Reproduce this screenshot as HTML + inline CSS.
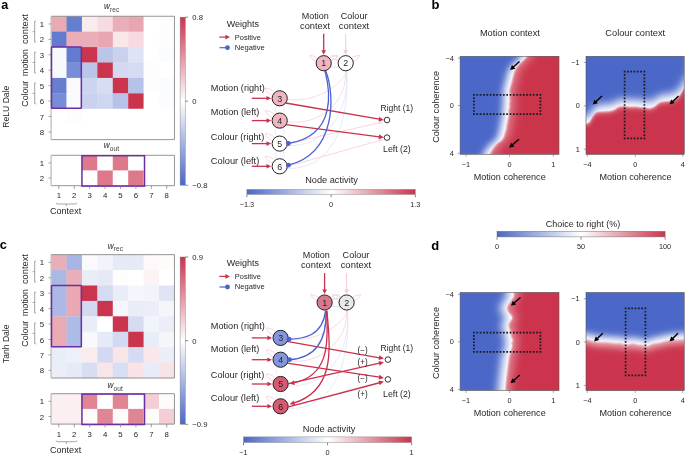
<!DOCTYPE html>
<html><head><meta charset="utf-8"><style>
html,body{margin:0;padding:0;background:#fff;}
body{width:685px;height:456px;overflow:hidden;}
svg{display:block;font-family:"Liberation Sans",sans-serif;will-change:transform;}
</style></head><body>
<svg width="685" height="456" viewBox="0 0 685 456" fill="#231f20">
<text x="1.30" y="8.90" font-size="12.6" fill="#000" font-weight="bold">a</text>
<text transform="translate(9.3,106.70) rotate(-90)" font-size="8.6" text-anchor="middle" fill="#231f20">ReLU Dale</text>
<text transform="translate(28.2,29.10) rotate(-90)" font-size="9.6" text-anchor="middle" fill="#231f20" textLength="30.0" lengthAdjust="spacingAndGlyphs">context</text>
<path d="M35.9,21.25 H34.7 V42.09 H35.9 M34.7,31.67 H32.6" stroke="#7d7d7d" stroke-width="0.7" fill="none"/>
<text transform="translate(28.2,62.70) rotate(-90)" font-size="9.6" text-anchor="middle" fill="#231f20" textLength="27.2" lengthAdjust="spacingAndGlyphs">motion</text>
<path d="M35.9,52.09 H34.7 V72.93 H35.9 M34.7,62.51 H32.6" stroke="#7d7d7d" stroke-width="0.7" fill="none"/>
<text transform="translate(28.2,93.80) rotate(-90)" font-size="9.6" text-anchor="middle" fill="#231f20" textLength="25.8" lengthAdjust="spacingAndGlyphs">Colour</text>
<path d="M35.9,82.93 H34.7 V103.77 H35.9 M34.7,93.35 H32.6" stroke="#7d7d7d" stroke-width="0.7" fill="none"/>
<rect x="51.10" y="16.25" width="15.72" height="15.72" fill="#e9aab4"/>
<rect x="66.52" y="16.25" width="15.72" height="15.72" fill="#667ed0"/>
<rect x="81.94" y="16.25" width="15.72" height="15.72" fill="#faebed"/>
<rect x="97.36" y="16.25" width="15.72" height="15.72" fill="#f6dce1"/>
<rect x="112.78" y="16.25" width="15.72" height="15.72" fill="#eaaeb8"/>
<rect x="128.20" y="16.25" width="15.72" height="15.72" fill="#e8a6b1"/>
<rect x="143.62" y="16.25" width="15.72" height="15.72" fill="#ffffff"/>
<rect x="159.04" y="16.25" width="15.72" height="15.72" fill="#fefdfd"/>
<rect x="51.10" y="31.67" width="15.72" height="15.72" fill="#627bcf"/>
<rect x="66.52" y="31.67" width="15.72" height="15.72" fill="#eaaeb8"/>
<rect x="81.94" y="31.67" width="15.72" height="15.72" fill="#eaaeb8"/>
<rect x="97.36" y="31.67" width="15.72" height="15.72" fill="#e8a6b1"/>
<rect x="112.78" y="31.67" width="15.72" height="15.72" fill="#f9e7ea"/>
<rect x="128.20" y="31.67" width="15.72" height="15.72" fill="#f6dadf"/>
<rect x="143.62" y="31.67" width="15.72" height="15.72" fill="#ffffff"/>
<rect x="159.04" y="31.67" width="15.72" height="15.72" fill="#fdfdfe"/>
<rect x="51.10" y="47.09" width="15.72" height="15.72" fill="#f8f9fd"/>
<rect x="66.52" y="47.09" width="15.72" height="15.72" fill="#627bcf"/>
<rect x="81.94" y="47.09" width="15.72" height="15.72" fill="#cb344d"/>
<rect x="97.36" y="47.09" width="15.72" height="15.72" fill="#bbc5ea"/>
<rect x="112.78" y="47.09" width="15.72" height="15.72" fill="#c9d1ee"/>
<rect x="128.20" y="47.09" width="15.72" height="15.72" fill="#dfe4f5"/>
<rect x="143.62" y="47.09" width="15.72" height="15.72" fill="#ffffff"/>
<rect x="159.04" y="47.09" width="15.72" height="15.72" fill="#fbfcfe"/>
<rect x="51.10" y="62.51" width="15.72" height="15.72" fill="#f8f9fd"/>
<rect x="66.52" y="62.51" width="15.72" height="15.72" fill="#788dd6"/>
<rect x="81.94" y="62.51" width="15.72" height="15.72" fill="#bbc5ea"/>
<rect x="97.36" y="62.51" width="15.72" height="15.72" fill="#cb344d"/>
<rect x="112.78" y="62.51" width="15.72" height="15.72" fill="#d2d9f1"/>
<rect x="128.20" y="62.51" width="15.72" height="15.72" fill="#d4dbf2"/>
<rect x="143.62" y="62.51" width="15.72" height="15.72" fill="#fefdfd"/>
<rect x="159.04" y="62.51" width="15.72" height="15.72" fill="#ffffff"/>
<rect x="51.10" y="77.93" width="15.72" height="15.72" fill="#687fd1"/>
<rect x="66.52" y="77.93" width="15.72" height="15.72" fill="#fafafd"/>
<rect x="81.94" y="77.93" width="15.72" height="15.72" fill="#cdd4f0"/>
<rect x="97.36" y="77.93" width="15.72" height="15.72" fill="#d7def3"/>
<rect x="112.78" y="77.93" width="15.72" height="15.72" fill="#cb344d"/>
<rect x="128.20" y="77.93" width="15.72" height="15.72" fill="#b7c2e9"/>
<rect x="143.62" y="77.93" width="15.72" height="15.72" fill="#fefdfd"/>
<rect x="159.04" y="77.93" width="15.72" height="15.72" fill="#fbfcfe"/>
<rect x="51.10" y="93.35" width="15.72" height="15.72" fill="#788dd6"/>
<rect x="66.52" y="93.35" width="15.72" height="15.72" fill="#fafafd"/>
<rect x="81.94" y="93.35" width="15.72" height="15.72" fill="#c9d1ee"/>
<rect x="97.36" y="93.35" width="15.72" height="15.72" fill="#ced6f0"/>
<rect x="112.78" y="93.35" width="15.72" height="15.72" fill="#b7c2e9"/>
<rect x="128.20" y="93.35" width="15.72" height="15.72" fill="#cb344d"/>
<rect x="143.62" y="93.35" width="15.72" height="15.72" fill="#ffffff"/>
<rect x="159.04" y="93.35" width="15.72" height="15.72" fill="#fbfcfe"/>
<rect x="51.10" y="108.77" width="15.72" height="15.72" fill="#ffffff"/>
<rect x="66.52" y="108.77" width="15.72" height="15.72" fill="#fdfdfe"/>
<rect x="81.94" y="108.77" width="15.72" height="15.72" fill="#ffffff"/>
<rect x="97.36" y="108.77" width="15.72" height="15.72" fill="#ffffff"/>
<rect x="112.78" y="108.77" width="15.72" height="15.72" fill="#ffffff"/>
<rect x="128.20" y="108.77" width="15.72" height="15.72" fill="#ffffff"/>
<rect x="143.62" y="108.77" width="15.72" height="15.72" fill="#ffffff"/>
<rect x="159.04" y="108.77" width="15.72" height="15.72" fill="#ffffff"/>
<rect x="51.10" y="124.19" width="15.72" height="15.72" fill="#ffffff"/>
<rect x="66.52" y="124.19" width="15.72" height="15.72" fill="#ffffff"/>
<rect x="81.94" y="124.19" width="15.72" height="15.72" fill="#ffffff"/>
<rect x="97.36" y="124.19" width="15.72" height="15.72" fill="#ffffff"/>
<rect x="112.78" y="124.19" width="15.72" height="15.72" fill="#ffffff"/>
<rect x="128.20" y="124.19" width="15.72" height="15.72" fill="#ffffff"/>
<rect x="143.62" y="124.19" width="15.72" height="15.72" fill="#ffffff"/>
<rect x="159.04" y="124.19" width="15.72" height="15.72" fill="#ffffff"/>
<path d="M51.10,16.25 H174.46 V139.61 H51.10" fill="none" stroke="#8a8a8a" stroke-width="0.9"/>
<path d="M51.10,16.25 V139.61" stroke="#c4c4c4" stroke-width="1.4"/>
<path d="M48.50,23.96 H51.10" stroke="#7d7d7d" stroke-width="0.7"/>
<text x="41.90" y="27.06" font-size="7.8" text-anchor="middle">1</text>
<path d="M48.50,39.38 H51.10" stroke="#7d7d7d" stroke-width="0.7"/>
<text x="41.90" y="42.48" font-size="7.8" text-anchor="middle">2</text>
<path d="M48.50,54.80 H51.10" stroke="#7d7d7d" stroke-width="0.7"/>
<text x="41.90" y="57.90" font-size="7.8" text-anchor="middle">3</text>
<path d="M48.50,70.22 H51.10" stroke="#7d7d7d" stroke-width="0.7"/>
<text x="41.90" y="73.32" font-size="7.8" text-anchor="middle">4</text>
<path d="M48.50,85.64 H51.10" stroke="#7d7d7d" stroke-width="0.7"/>
<text x="41.90" y="88.74" font-size="7.8" text-anchor="middle">5</text>
<path d="M48.50,101.06 H51.10" stroke="#7d7d7d" stroke-width="0.7"/>
<text x="41.90" y="104.16" font-size="7.8" text-anchor="middle">6</text>
<path d="M48.50,116.48 H51.10" stroke="#7d7d7d" stroke-width="0.7"/>
<text x="41.90" y="119.58" font-size="7.8" text-anchor="middle">7</text>
<path d="M48.50,131.90 H51.10" stroke="#7d7d7d" stroke-width="0.7"/>
<text x="41.90" y="135.00" font-size="7.8" text-anchor="middle">8</text>
<rect x="51.50" y="47.09" width="29.84" height="61.28" rx="0.6" fill="none" stroke="#6a2fa0" stroke-width="1.5"/>
<text x="104.0" y="8.90" font-size="8.6" fill="#231f20"><tspan font-style="italic" font-size="8.2">w</tspan><tspan font-size="6.6" dy="2.9" dx="0.1" fill="#444">rec</tspan></text>
<rect x="51.10" y="155.30" width="15.72" height="15.5" fill="#ffffff"/>
<rect x="66.52" y="155.30" width="15.72" height="15.5" fill="#ffffff"/>
<rect x="81.94" y="155.30" width="15.72" height="15.5" fill="#dd798a"/>
<rect x="97.36" y="155.30" width="15.72" height="15.5" fill="#ffffff"/>
<rect x="112.78" y="155.30" width="15.72" height="15.5" fill="#dd798a"/>
<rect x="128.20" y="155.30" width="15.72" height="15.5" fill="#ffffff"/>
<rect x="143.62" y="155.30" width="15.72" height="15.5" fill="#ffffff"/>
<rect x="159.04" y="155.30" width="15.72" height="15.5" fill="#ffffff"/>
<rect x="51.10" y="170.50" width="15.72" height="15.5" fill="#ffffff"/>
<rect x="66.52" y="170.50" width="15.72" height="15.5" fill="#ffffff"/>
<rect x="81.94" y="170.50" width="15.72" height="15.5" fill="#ffffff"/>
<rect x="97.36" y="170.50" width="15.72" height="15.5" fill="#dd798a"/>
<rect x="112.78" y="170.50" width="15.72" height="15.5" fill="#ffffff"/>
<rect x="128.20" y="170.50" width="15.72" height="15.5" fill="#dd798a"/>
<rect x="143.62" y="170.50" width="15.72" height="15.5" fill="#ffffff"/>
<rect x="159.04" y="170.50" width="15.72" height="15.5" fill="#ffffff"/>
<path d="M51.10,155.30 H174.46 V185.70 H51.10" fill="none" stroke="#8a8a8a" stroke-width="0.9"/>
<path d="M51.10,155.30 V185.70" stroke="#c4c4c4" stroke-width="1.4"/>
<path d="M48.50,162.90 H51.10" stroke="#7d7d7d" stroke-width="0.7"/>
<text x="41.90" y="166.00" font-size="7.8" text-anchor="middle">1</text>
<path d="M48.50,178.10 H51.10" stroke="#7d7d7d" stroke-width="0.7"/>
<text x="41.90" y="181.20" font-size="7.8" text-anchor="middle">2</text>
<rect x="81.94" y="155.70" width="62.58" height="30.4" fill="none" stroke="#6a2fa0" stroke-width="1.5"/>
<text x="103.8" y="148.40" font-size="8.6" fill="#231f20"><tspan font-style="italic" font-size="8.2">w</tspan><tspan font-size="6.6" dy="2.9" dx="0.1" fill="#444">out</tspan></text>
<path d="M58.81,185.70 V188.90" stroke="#7d7d7d" stroke-width="0.75"/>
<text x="58.81" y="198.30" font-size="7.8" text-anchor="middle">1</text>
<path d="M74.23,185.70 V188.90" stroke="#7d7d7d" stroke-width="0.75"/>
<text x="74.23" y="198.30" font-size="7.8" text-anchor="middle">2</text>
<path d="M89.65,185.70 V188.90" stroke="#7d7d7d" stroke-width="0.75"/>
<text x="89.65" y="198.30" font-size="7.8" text-anchor="middle">3</text>
<path d="M105.07,185.70 V188.90" stroke="#7d7d7d" stroke-width="0.75"/>
<text x="105.07" y="198.30" font-size="7.8" text-anchor="middle">4</text>
<path d="M120.49,185.70 V188.90" stroke="#7d7d7d" stroke-width="0.75"/>
<text x="120.49" y="198.30" font-size="7.8" text-anchor="middle">5</text>
<path d="M135.91,185.70 V188.90" stroke="#7d7d7d" stroke-width="0.75"/>
<text x="135.91" y="198.30" font-size="7.8" text-anchor="middle">6</text>
<path d="M151.33,185.70 V188.90" stroke="#7d7d7d" stroke-width="0.75"/>
<text x="151.33" y="198.30" font-size="7.8" text-anchor="middle">7</text>
<path d="M166.75,185.70 V188.90" stroke="#7d7d7d" stroke-width="0.75"/>
<text x="166.75" y="198.30" font-size="7.8" text-anchor="middle">8</text>
<path d="M56.2,202.80 Q56.2,204.00 57.2,204.00 H75.8 Q76.8,204.00 76.8,202.80 M66.3,204.00 V206.30" stroke="#8a8a8a" stroke-width="0.75" fill="none"/>
<text x="50.00" y="213.70" font-size="8.6" textLength="31.20" lengthAdjust="spacingAndGlyphs">Context</text>
<defs><linearGradient id="cbva" x1="0" y1="0" x2="0" y2="1"><stop offset="0" stop-color="#cb344d"/><stop offset="0.5" stop-color="#ffffff"/><stop offset="1" stop-color="#4b67c8"/></linearGradient></defs>
<rect x="180.1" y="17.20" width="5.2" height="168.00" fill="url(#cbva)" stroke="#777" stroke-width="0.4"/>
<path d="M185.30,17.20 H188.10" stroke="#555" stroke-width="0.7"/>
<text x="192.30" y="20.10" font-size="7.7">0.8</text>
<path d="M185.30,101.20 H188.10" stroke="#555" stroke-width="0.7"/>
<text x="192.30" y="104.10" font-size="7.7">0</text>
<path d="M185.30,185.20 H188.10" stroke="#555" stroke-width="0.7"/>
<text x="192.30" y="188.10" font-size="7.7">−0.8</text>
<text x="-0.30" y="249.20" font-size="12.8" fill="#000" font-weight="bold">c</text>
<text transform="translate(9.3,343.80) rotate(-90)" font-size="8.6" text-anchor="middle" fill="#231f20">Tanh Dale</text>
<text transform="translate(28.2,269.10) rotate(-90)" font-size="9.6" text-anchor="middle" fill="#231f20" textLength="30.0" lengthAdjust="spacingAndGlyphs">context</text>
<path d="M35.9,261.25 H34.7 V282.09 H35.9 M34.7,271.67 H32.6" stroke="#7d7d7d" stroke-width="0.7" fill="none"/>
<text transform="translate(28.2,302.70) rotate(-90)" font-size="9.6" text-anchor="middle" fill="#231f20" textLength="27.2" lengthAdjust="spacingAndGlyphs">motion</text>
<path d="M35.9,292.09 H34.7 V312.93 H35.9 M34.7,302.51 H32.6" stroke="#7d7d7d" stroke-width="0.7" fill="none"/>
<text transform="translate(28.2,333.80) rotate(-90)" font-size="9.6" text-anchor="middle" fill="#231f20" textLength="25.8" lengthAdjust="spacingAndGlyphs">Colour</text>
<path d="M35.9,322.93 H34.7 V343.77 H35.9 M34.7,333.35 H32.6" stroke="#7d7d7d" stroke-width="0.7" fill="none"/>
<rect x="51.10" y="254.65" width="15.72" height="15.72" fill="#eaaeb8"/>
<rect x="66.52" y="254.65" width="15.72" height="15.72" fill="#a9b6e5"/>
<rect x="81.94" y="254.65" width="15.72" height="15.72" fill="#fafafd"/>
<rect x="97.36" y="254.65" width="15.72" height="15.72" fill="#f2f4fb"/>
<rect x="112.78" y="254.65" width="15.72" height="15.72" fill="#e6eaf7"/>
<rect x="128.20" y="254.65" width="15.72" height="15.72" fill="#e6eaf7"/>
<rect x="143.62" y="254.65" width="15.72" height="15.72" fill="#fdf9fa"/>
<rect x="159.04" y="254.65" width="15.72" height="15.72" fill="#fefbfb"/>
<rect x="51.10" y="270.07" width="15.72" height="15.72" fill="#aab8e5"/>
<rect x="66.52" y="270.07" width="15.72" height="15.72" fill="#eaaeb8"/>
<rect x="81.94" y="270.07" width="15.72" height="15.72" fill="#e9edf8"/>
<rect x="97.36" y="270.07" width="15.72" height="15.72" fill="#e6eaf7"/>
<rect x="112.78" y="270.07" width="15.72" height="15.72" fill="#fefdfd"/>
<rect x="128.20" y="270.07" width="15.72" height="15.72" fill="#ffffff"/>
<rect x="143.62" y="270.07" width="15.72" height="15.72" fill="#fcf3f4"/>
<rect x="159.04" y="270.07" width="15.72" height="15.72" fill="#ffffff"/>
<rect x="51.10" y="285.49" width="15.72" height="15.72" fill="#acb9e6"/>
<rect x="66.52" y="285.49" width="15.72" height="15.72" fill="#e9a8b2"/>
<rect x="81.94" y="285.49" width="15.72" height="15.72" fill="#cb344d"/>
<rect x="97.36" y="285.49" width="15.72" height="15.72" fill="#d4dbf2"/>
<rect x="112.78" y="285.49" width="15.72" height="15.72" fill="#e9edf8"/>
<rect x="128.20" y="285.49" width="15.72" height="15.72" fill="#f4f6fc"/>
<rect x="143.62" y="285.49" width="15.72" height="15.72" fill="#f2f4fb"/>
<rect x="159.04" y="285.49" width="15.72" height="15.72" fill="#e0e5f6"/>
<rect x="51.10" y="300.91" width="15.72" height="15.72" fill="#acb9e6"/>
<rect x="66.52" y="300.91" width="15.72" height="15.72" fill="#e9a8b2"/>
<rect x="81.94" y="300.91" width="15.72" height="15.72" fill="#d2d9f1"/>
<rect x="97.36" y="300.91" width="15.72" height="15.72" fill="#cb344d"/>
<rect x="112.78" y="300.91" width="15.72" height="15.72" fill="#f6f7fc"/>
<rect x="128.20" y="300.91" width="15.72" height="15.72" fill="#e9edf8"/>
<rect x="143.62" y="300.91" width="15.72" height="15.72" fill="#ebeef9"/>
<rect x="159.04" y="300.91" width="15.72" height="15.72" fill="#f4f6fc"/>
<rect x="51.10" y="316.33" width="15.72" height="15.72" fill="#e9aab4"/>
<rect x="66.52" y="316.33" width="15.72" height="15.72" fill="#aebbe6"/>
<rect x="81.94" y="316.33" width="15.72" height="15.72" fill="#e9edf8"/>
<rect x="97.36" y="316.33" width="15.72" height="15.72" fill="#ffffff"/>
<rect x="112.78" y="316.33" width="15.72" height="15.72" fill="#cb344d"/>
<rect x="128.20" y="316.33" width="15.72" height="15.72" fill="#d4dbf2"/>
<rect x="143.62" y="316.33" width="15.72" height="15.72" fill="#f2f4fb"/>
<rect x="159.04" y="316.33" width="15.72" height="15.72" fill="#ebeef9"/>
<rect x="51.10" y="331.75" width="15.72" height="15.72" fill="#e9aab4"/>
<rect x="66.52" y="331.75" width="15.72" height="15.72" fill="#aebbe6"/>
<rect x="81.94" y="331.75" width="15.72" height="15.72" fill="#f8f9fd"/>
<rect x="97.36" y="331.75" width="15.72" height="15.72" fill="#e6eaf7"/>
<rect x="112.78" y="331.75" width="15.72" height="15.72" fill="#d2d9f1"/>
<rect x="128.20" y="331.75" width="15.72" height="15.72" fill="#cb344d"/>
<rect x="143.62" y="331.75" width="15.72" height="15.72" fill="#e9edf8"/>
<rect x="159.04" y="331.75" width="15.72" height="15.72" fill="#f4f6fc"/>
<rect x="51.10" y="347.17" width="15.72" height="15.72" fill="#e9edf8"/>
<rect x="66.52" y="347.17" width="15.72" height="15.72" fill="#edf0fa"/>
<rect x="81.94" y="347.17" width="15.72" height="15.72" fill="#faebed"/>
<rect x="97.36" y="347.17" width="15.72" height="15.72" fill="#d2d9f1"/>
<rect x="112.78" y="347.17" width="15.72" height="15.72" fill="#f8e5e8"/>
<rect x="128.20" y="347.17" width="15.72" height="15.72" fill="#d4dbf2"/>
<rect x="143.62" y="347.17" width="15.72" height="15.72" fill="#f9e7ea"/>
<rect x="159.04" y="347.17" width="15.72" height="15.72" fill="#ebeef9"/>
<rect x="51.10" y="362.59" width="15.72" height="15.72" fill="#ebeef9"/>
<rect x="66.52" y="362.59" width="15.72" height="15.72" fill="#e6eaf7"/>
<rect x="81.94" y="362.59" width="15.72" height="15.72" fill="#d7def3"/>
<rect x="97.36" y="362.59" width="15.72" height="15.72" fill="#f8e5e8"/>
<rect x="112.78" y="362.59" width="15.72" height="15.72" fill="#d9dff3"/>
<rect x="128.20" y="362.59" width="15.72" height="15.72" fill="#f8e3e6"/>
<rect x="143.62" y="362.59" width="15.72" height="15.72" fill="#e8ebf8"/>
<rect x="159.04" y="362.59" width="15.72" height="15.72" fill="#f8e3e6"/>
<path d="M51.10,254.65 H174.46 V378.01 H51.10" fill="none" stroke="#8a8a8a" stroke-width="0.9"/>
<path d="M51.10,254.65 V378.01" stroke="#c4c4c4" stroke-width="1.4"/>
<path d="M48.50,262.36 H51.10" stroke="#7d7d7d" stroke-width="0.7"/>
<text x="41.90" y="265.46" font-size="7.8" text-anchor="middle">1</text>
<path d="M48.50,277.78 H51.10" stroke="#7d7d7d" stroke-width="0.7"/>
<text x="41.90" y="280.88" font-size="7.8" text-anchor="middle">2</text>
<path d="M48.50,293.20 H51.10" stroke="#7d7d7d" stroke-width="0.7"/>
<text x="41.90" y="296.30" font-size="7.8" text-anchor="middle">3</text>
<path d="M48.50,308.62 H51.10" stroke="#7d7d7d" stroke-width="0.7"/>
<text x="41.90" y="311.72" font-size="7.8" text-anchor="middle">4</text>
<path d="M48.50,324.04 H51.10" stroke="#7d7d7d" stroke-width="0.7"/>
<text x="41.90" y="327.14" font-size="7.8" text-anchor="middle">5</text>
<path d="M48.50,339.46 H51.10" stroke="#7d7d7d" stroke-width="0.7"/>
<text x="41.90" y="342.56" font-size="7.8" text-anchor="middle">6</text>
<path d="M48.50,354.88 H51.10" stroke="#7d7d7d" stroke-width="0.7"/>
<text x="41.90" y="357.98" font-size="7.8" text-anchor="middle">7</text>
<path d="M48.50,370.30 H51.10" stroke="#7d7d7d" stroke-width="0.7"/>
<text x="41.90" y="373.40" font-size="7.8" text-anchor="middle">8</text>
<rect x="51.50" y="285.49" width="29.84" height="61.28" rx="0.6" fill="none" stroke="#6a2fa0" stroke-width="1.5"/>
<text x="107.8" y="248.50" font-size="8.6" fill="#231f20"><tspan font-style="italic" font-size="8.2">w</tspan><tspan font-size="6.6" dy="2.9" dx="0.1" fill="#444">rec</tspan></text>
<rect x="51.10" y="393.70" width="15.72" height="15.5" fill="#fbeff1"/>
<rect x="66.52" y="393.70" width="15.72" height="15.5" fill="#fbeff1"/>
<rect x="81.94" y="393.70" width="15.72" height="15.5" fill="#e08594"/>
<rect x="97.36" y="393.70" width="15.72" height="15.5" fill="#ffffff"/>
<rect x="112.78" y="393.70" width="15.72" height="15.5" fill="#e08594"/>
<rect x="128.20" y="393.70" width="15.72" height="15.5" fill="#ffffff"/>
<rect x="143.62" y="393.70" width="15.72" height="15.5" fill="#f3ced4"/>
<rect x="159.04" y="393.70" width="15.72" height="15.5" fill="#fefbfb"/>
<rect x="51.10" y="408.90" width="15.72" height="15.5" fill="#fbeff1"/>
<rect x="66.52" y="408.90" width="15.72" height="15.5" fill="#fbeff1"/>
<rect x="81.94" y="408.90" width="15.72" height="15.5" fill="#fefbfb"/>
<rect x="97.36" y="408.90" width="15.72" height="15.5" fill="#e08594"/>
<rect x="112.78" y="408.90" width="15.72" height="15.5" fill="#fefbfb"/>
<rect x="128.20" y="408.90" width="15.72" height="15.5" fill="#e08594"/>
<rect x="143.62" y="408.90" width="15.72" height="15.5" fill="#fefbfb"/>
<rect x="159.04" y="408.90" width="15.72" height="15.5" fill="#f3ced4"/>
<path d="M51.10,393.70 H174.46 V424.10 H51.10" fill="none" stroke="#8a8a8a" stroke-width="0.9"/>
<path d="M51.10,393.70 V424.10" stroke="#c4c4c4" stroke-width="1.4"/>
<path d="M48.50,401.30 H51.10" stroke="#7d7d7d" stroke-width="0.7"/>
<text x="41.90" y="404.40" font-size="7.8" text-anchor="middle">1</text>
<path d="M48.50,416.50 H51.10" stroke="#7d7d7d" stroke-width="0.7"/>
<text x="41.90" y="419.60" font-size="7.8" text-anchor="middle">2</text>
<rect x="81.94" y="394.10" width="62.58" height="30.4" fill="none" stroke="#6a2fa0" stroke-width="1.5"/>
<text x="107.6" y="388.00" font-size="8.6" fill="#231f20"><tspan font-style="italic" font-size="8.2">w</tspan><tspan font-size="6.6" dy="2.9" dx="0.1" fill="#444">out</tspan></text>
<path d="M58.81,424.10 V427.30" stroke="#7d7d7d" stroke-width="0.75"/>
<text x="58.81" y="436.70" font-size="7.8" text-anchor="middle">1</text>
<path d="M74.23,424.10 V427.30" stroke="#7d7d7d" stroke-width="0.75"/>
<text x="74.23" y="436.70" font-size="7.8" text-anchor="middle">2</text>
<path d="M89.65,424.10 V427.30" stroke="#7d7d7d" stroke-width="0.75"/>
<text x="89.65" y="436.70" font-size="7.8" text-anchor="middle">3</text>
<path d="M105.07,424.10 V427.30" stroke="#7d7d7d" stroke-width="0.75"/>
<text x="105.07" y="436.70" font-size="7.8" text-anchor="middle">4</text>
<path d="M120.49,424.10 V427.30" stroke="#7d7d7d" stroke-width="0.75"/>
<text x="120.49" y="436.70" font-size="7.8" text-anchor="middle">5</text>
<path d="M135.91,424.10 V427.30" stroke="#7d7d7d" stroke-width="0.75"/>
<text x="135.91" y="436.70" font-size="7.8" text-anchor="middle">6</text>
<path d="M151.33,424.10 V427.30" stroke="#7d7d7d" stroke-width="0.75"/>
<text x="151.33" y="436.70" font-size="7.8" text-anchor="middle">7</text>
<path d="M166.75,424.10 V427.30" stroke="#7d7d7d" stroke-width="0.75"/>
<text x="166.75" y="436.70" font-size="7.8" text-anchor="middle">8</text>
<path d="M56.2,440.50 Q56.2,441.70 57.2,441.70 H75.8 Q76.8,441.70 76.8,440.50 M66.3,441.70 V444.00" stroke="#8a8a8a" stroke-width="0.75" fill="none"/>
<text x="50.00" y="453.20" font-size="8.6" textLength="31.20" lengthAdjust="spacingAndGlyphs">Context</text>
<defs><linearGradient id="cbvc" x1="0" y1="0" x2="0" y2="1"><stop offset="0" stop-color="#cb344d"/><stop offset="0.5" stop-color="#ffffff"/><stop offset="1" stop-color="#4b67c8"/></linearGradient></defs>
<rect x="180.1" y="257.00" width="5.2" height="167.30" fill="url(#cbvc)" stroke="#777" stroke-width="0.4"/>
<path d="M185.30,257.00 H188.10" stroke="#555" stroke-width="0.7"/>
<text x="192.30" y="259.90" font-size="7.7">0.9</text>
<path d="M185.30,340.65 H188.10" stroke="#555" stroke-width="0.7"/>
<text x="192.30" y="343.55" font-size="7.7">0</text>
<path d="M185.30,424.30 H188.10" stroke="#555" stroke-width="0.7"/>
<text x="192.30" y="427.20" font-size="7.7">−0.9</text>
<text x="226.70" y="27.10" font-size="8.3" textLength="32.30" lengthAdjust="spacingAndGlyphs">Weights</text>
<g><path d="M219.30,37.10 L225.90,37.10" stroke="#cc2f4c" stroke-width="1.2" fill="none"/><path d="M230.00,37.10 L225.40,39.40 L225.40,34.80 Z" fill="#cc2f4c"/></g>
<text x="234.80" y="39.70" font-size="7.6" textLength="26.00" lengthAdjust="spacingAndGlyphs">Positive</text>
<path d="M219.5,47.70 H227.5" stroke="#4a62cf" stroke-width="1.2"/><circle cx="227.5" cy="47.70" r="2.4" fill="#4a62cf"/>
<text x="234.80" y="49.60" font-size="7.6" textLength="30.00" lengthAdjust="spacingAndGlyphs">Negative</text>
<text x="315.25" y="19.20" font-size="8.5" text-anchor="middle" textLength="27.00" lengthAdjust="spacingAndGlyphs">Motion</text>
<text x="315.00" y="29.00" font-size="8.5" text-anchor="middle" textLength="30.00" lengthAdjust="spacingAndGlyphs">context</text>
<text x="354.10" y="19.20" font-size="8.5" text-anchor="middle" textLength="26.80" lengthAdjust="spacingAndGlyphs">Colour</text>
<text x="354.00" y="29.00" font-size="8.5" text-anchor="middle" textLength="30.50" lengthAdjust="spacingAndGlyphs">context</text>
<path d="M317.70,57.70 C314.70,56.20 311.70,55.70 309.70,55.20 C310.70,58.20 312.70,60.20 316.20,61.20" stroke="#f7d3da" stroke-width="0.9" fill="none"/>
<path d="M329.70,57.70 C332.70,56.20 335.70,55.70 337.70,55.20 C336.70,58.20 334.70,60.20 331.20,61.20" stroke="#f7d3da" stroke-width="0.9" fill="none"/>
<path d="M339.70,57.70 C336.70,56.20 333.70,55.70 331.70,55.20 C332.70,58.20 334.70,60.20 338.20,61.20" stroke="#f7d3da" stroke-width="0.9" fill="none"/>
<path d="M351.70,57.70 C354.70,56.20 357.70,55.70 359.70,55.20 C358.70,58.20 356.70,60.20 353.20,61.20" stroke="#f7d3da" stroke-width="0.9" fill="none"/>
<path d="M329.70,59.20 H339.70 M329.70,67.20 H339.70" stroke="#dfe4f7" stroke-width="0.9" fill="none"/>
<path d="M274.70,92.30 C271.70,89.30 267.70,88.30 265.20,88.30 C266.70,92.30 269.70,94.30 272.20,95.30" stroke="#f7d3da" stroke-width="0.9" fill="none"/>
<path d="M276.70,105.30 C274.70,109.30 274.70,109.60 276.70,113.60 M282.70,105.30 C284.70,109.30 284.70,109.60 282.70,113.60" stroke="#dfe4f7" stroke-width="0.8" fill="none" opacity="0.9"/>
<path d="M274.70,114.60 C271.70,111.60 267.70,110.60 265.20,110.60 C266.70,114.60 269.70,116.60 272.20,117.60" stroke="#f7d3da" stroke-width="0.9" fill="none"/>
<path d="M276.70,127.60 C274.70,131.60 274.70,132.60 276.70,136.60 M282.70,127.60 C284.70,131.60 284.70,132.60 282.70,136.60" stroke="#dfe4f7" stroke-width="0.8" fill="none" opacity="0.9"/>
<path d="M274.70,137.60 C271.70,134.60 267.70,133.60 265.20,133.60 C266.70,137.60 269.70,139.60 272.20,140.60" stroke="#f7d3da" stroke-width="0.9" fill="none"/>
<path d="M276.70,150.60 C274.70,154.60 274.70,155.30 276.70,159.30 M282.70,150.60 C284.70,154.60 284.70,155.30 282.70,159.30" stroke="#dfe4f7" stroke-width="0.8" fill="none" opacity="0.9"/>
<path d="M274.70,160.30 C271.70,157.30 267.70,156.30 265.20,156.30 C266.70,160.30 269.70,162.30 272.20,163.30" stroke="#f7d3da" stroke-width="0.9" fill="none"/>
<path d="M286.70,99.30 C319.70,104.30 347.70,78.30 345.70,71.20" stroke="#f7d3da" stroke-width="0.8" fill="none"/>
<path d="M286.70,121.60 C319.70,126.60 347.70,100.60 345.70,71.20" stroke="#f7d3da" stroke-width="0.8" fill="none"/>
<path d="M286.70,145.60 C324.70,147.60 349.70,113.60 346.70,71.20" stroke="#dfe4f7" stroke-width="0.8" fill="none"/>
<path d="M286.70,168.30 C324.70,170.30 349.70,136.30 346.70,71.20" stroke="#dfe4f7" stroke-width="0.8" fill="none"/>
<text x="210.80" y="90.50" font-size="9.0" textLength="54.00" lengthAdjust="spacingAndGlyphs">Motion (right)</text>
<g><path d="M251.80,98.30 L267.00,98.30" stroke="#cc2f4c" stroke-width="1.3" fill="none"/><path d="M271.10,98.30 L266.50,100.60 L266.50,96.00 Z" fill="#cc2f4c"/></g>
<text x="210.80" y="114.50" font-size="9.0" textLength="48.50" lengthAdjust="spacingAndGlyphs">Motion (left)</text>
<g><path d="M251.80,120.60 L267.00,120.60" stroke="#cc2f4c" stroke-width="1.3" fill="none"/><path d="M271.10,120.60 L266.50,122.90 L266.50,118.30 Z" fill="#cc2f4c"/></g>
<text x="210.80" y="140.00" font-size="9.0" textLength="53.40" lengthAdjust="spacingAndGlyphs">Colour (right)</text>
<g><path d="M251.80,143.60 L267.00,143.60" stroke="#cc2f4c" stroke-width="1.3" fill="none"/><path d="M271.10,143.60 L266.50,145.90 L266.50,141.30 Z" fill="#cc2f4c"/></g>
<text x="210.80" y="163.80" font-size="9.0" textLength="48.50" lengthAdjust="spacingAndGlyphs">Colour (left)</text>
<g><path d="M251.80,166.30 L267.00,166.30" stroke="#cc2f4c" stroke-width="1.3" fill="none"/><path d="M271.10,166.30 L266.50,168.60 L266.50,164.00 Z" fill="#cc2f4c"/></g>
<g><path d="M323.70,33.80 L323.70,50.70" stroke="#cc2f4c" stroke-width="1.3" fill="none"/><path d="M323.70,54.80 L321.40,50.20 L326.00,50.20 Z" fill="#cc2f4c"/></g>
<g><path d="M345.70,33.80 L345.70,50.70" stroke="#f6c9d1" stroke-width="1.0" fill="none"/><path d="M345.70,54.80 L343.40,50.20 L348.00,50.20 Z" fill="#f6c9d1"/></g>
<g><path d="M287.70,143.60 L379.59,122.77" stroke="#f8d5dc" stroke-width="1.0" fill="none"/><path d="M383.00,122.00 L379.54,124.83 L378.66,120.93 Z" fill="#f8d5dc"/></g>
<g><path d="M287.70,166.30 L379.63,140.54" stroke="#f8d5dc" stroke-width="1.0" fill="none"/><path d="M383.00,139.60 L379.69,142.60 L378.61,138.75 Z" fill="#f8d5dc"/></g>
<g><path d="M285.60,103.00 L379.37,119.14" stroke="#cc2f4c" stroke-width="1.3" fill="none"/><path d="M383.80,119.90 L378.47,121.42 L379.28,116.69 Z" fill="#cc2f4c"/></g>
<g><path d="M285.80,124.60 L379.34,136.82" stroke="#cc2f4c" stroke-width="1.3" fill="none"/><path d="M383.80,137.40 L378.53,139.13 L379.15,134.37 Z" fill="#cc2f4c"/></g>
<path d="M324.9,70.6 C329.48,87.70 338.47,135.28 288.4,143.5" stroke="#4a62cf" stroke-width="1.3" fill="none"/>
<path d="M325.6,70.6 C335.29,95.07 336.52,153.45 288.4,165.2" stroke="#4a62cf" stroke-width="1.3" fill="none"/>
<circle cx="323.70" cy="63.20" r="7.6" fill="#efb6c1" stroke="#231f20" stroke-width="1"/>
<text x="323.70" y="66.40" font-size="8.9" text-anchor="middle">1</text>
<circle cx="345.70" cy="63.20" r="7.6" fill="#ffffff" stroke="#231f20" stroke-width="1"/>
<text x="345.70" y="66.40" font-size="8.9" text-anchor="middle">2</text>
<circle cx="279.70" cy="98.30" r="7.6" fill="#efb6c1" stroke="#231f20" stroke-width="1"/>
<text x="279.70" y="101.50" font-size="8.9" text-anchor="middle">3</text>
<circle cx="279.70" cy="120.60" r="7.6" fill="#efb6c1" stroke="#231f20" stroke-width="1"/>
<text x="279.70" y="123.80" font-size="8.9" text-anchor="middle">4</text>
<circle cx="279.70" cy="143.60" r="7.6" fill="#ffffff" stroke="#231f20" stroke-width="1"/>
<text x="279.70" y="146.80" font-size="8.9" text-anchor="middle">5</text>
<circle cx="279.70" cy="166.30" r="7.6" fill="#ffffff" stroke="#231f20" stroke-width="1"/>
<text x="279.70" y="169.50" font-size="8.9" text-anchor="middle">6</text>
<circle cx="288.40" cy="143.50" r="2.4" fill="#4a62cf"/>
<circle cx="288.40" cy="165.20" r="2.4" fill="#4a62cf"/>
<circle cx="387.00" cy="120.00" r="2.8" fill="#fff" stroke="#231f20" stroke-width="0.9"/>
<circle cx="387.00" cy="137.60" r="2.8" fill="#fff" stroke="#231f20" stroke-width="0.9"/>
<text x="380.60" y="110.80" font-size="8.3" textLength="32.60" lengthAdjust="spacingAndGlyphs">Right (1)</text>
<text x="383.00" y="152.30" font-size="8.3" textLength="27.80" lengthAdjust="spacingAndGlyphs">Left (2)</text>
<text x="331.50" y="183.00" font-size="8.3" text-anchor="middle" textLength="52.70" lengthAdjust="spacingAndGlyphs">Node activity</text>
<defs><linearGradient id="cbha" x1="0" y1="0" x2="1" y2="0"><stop offset="0" stop-color="#4b67c8"/><stop offset="0.5" stop-color="#ffffff"/><stop offset="1" stop-color="#cb344d"/></linearGradient></defs>
<rect x="246.9" y="189.40" width="168.40" height="5.00" fill="url(#cbha)" stroke="#777" stroke-width="0.4"/>
<path d="M246.90,194.40 V197.20" stroke="#555" stroke-width="0.7"/>
<text x="246.90" y="206.90" font-size="7.3" text-anchor="middle">−1.3</text>
<path d="M331.10,194.40 V197.20" stroke="#555" stroke-width="0.7"/>
<text x="331.10" y="206.90" font-size="7.3" text-anchor="middle">0</text>
<path d="M415.30,194.40 V197.20" stroke="#555" stroke-width="0.7"/>
<text x="415.30" y="206.90" font-size="7.3" text-anchor="middle">1.3</text>
<text x="226.70" y="266.40" font-size="8.3" textLength="32.30" lengthAdjust="spacingAndGlyphs">Weights</text>
<g><path d="M219.30,276.40 L225.90,276.40" stroke="#cc2f4c" stroke-width="1.2" fill="none"/><path d="M230.00,276.40 L225.40,278.70 L225.40,274.10 Z" fill="#cc2f4c"/></g>
<text x="234.80" y="279.00" font-size="7.6" textLength="26.00" lengthAdjust="spacingAndGlyphs">Positive</text>
<path d="M219.5,287.00 H227.5" stroke="#4a62cf" stroke-width="1.2"/><circle cx="227.5" cy="287.00" r="2.4" fill="#4a62cf"/>
<text x="234.80" y="288.90" font-size="7.6" textLength="30.00" lengthAdjust="spacingAndGlyphs">Negative</text>
<text x="316.15" y="257.60" font-size="8.5" text-anchor="middle" textLength="27.00" lengthAdjust="spacingAndGlyphs">Motion</text>
<text x="315.90" y="268.30" font-size="8.5" text-anchor="middle" textLength="30.00" lengthAdjust="spacingAndGlyphs">context</text>
<text x="356.00" y="257.60" font-size="8.5" text-anchor="middle" textLength="26.80" lengthAdjust="spacingAndGlyphs">Colour</text>
<text x="355.90" y="268.30" font-size="8.5" text-anchor="middle" textLength="30.50" lengthAdjust="spacingAndGlyphs">context</text>
<path d="M318.60,297.00 C315.60,295.50 312.60,295.00 310.60,294.50 C311.60,297.50 313.60,299.50 317.10,300.50" stroke="#f7d3da" stroke-width="0.9" fill="none"/>
<path d="M330.60,297.00 C333.60,295.50 336.60,295.00 338.60,294.50 C337.60,297.50 335.60,299.50 332.10,300.50" stroke="#f7d3da" stroke-width="0.9" fill="none"/>
<path d="M340.60,297.00 C337.60,295.50 334.60,295.00 332.60,294.50 C333.60,297.50 335.60,299.50 339.10,300.50" stroke="#f7d3da" stroke-width="0.9" fill="none"/>
<path d="M352.60,297.00 C355.60,295.50 358.60,295.00 360.60,294.50 C359.60,297.50 357.60,299.50 354.10,300.50" stroke="#f7d3da" stroke-width="0.9" fill="none"/>
<path d="M330.60,298.50 H340.60 M330.60,306.50 H340.60" stroke="#dfe4f7" stroke-width="0.9" fill="none"/>
<path d="M275.60,331.90 C272.60,328.90 268.60,327.90 266.10,327.90 C267.60,331.90 270.60,333.90 273.10,334.90" stroke="#f7d3da" stroke-width="0.9" fill="none"/>
<path d="M277.60,344.90 C275.60,348.90 275.60,348.70 277.60,352.70 M283.60,344.90 C285.60,348.90 285.60,348.70 283.60,352.70" stroke="#dfe4f7" stroke-width="0.8" fill="none" opacity="0.5"/>
<path d="M275.60,353.70 C272.60,350.70 268.60,349.70 266.10,349.70 C267.60,353.70 270.60,355.70 273.10,356.70" stroke="#f7d3da" stroke-width="0.9" fill="none"/>
<path d="M277.60,366.70 C275.60,370.70 275.60,373.00 277.60,377.00 M283.60,366.70 C285.60,370.70 285.60,373.00 283.60,377.00" stroke="#dfe4f7" stroke-width="0.8" fill="none" opacity="0.5"/>
<path d="M275.60,378.00 C272.60,375.00 268.60,374.00 266.10,374.00 C267.60,378.00 270.60,380.00 273.10,381.00" stroke="#f7d3da" stroke-width="0.9" fill="none"/>
<path d="M277.60,391.00 C275.60,395.00 275.60,395.30 277.60,399.30 M283.60,391.00 C285.60,395.00 285.60,395.30 283.60,399.30" stroke="#dfe4f7" stroke-width="0.8" fill="none" opacity="0.5"/>
<path d="M275.60,400.30 C272.60,397.30 268.60,396.30 266.10,396.30 C267.60,400.30 270.60,402.30 273.10,403.30" stroke="#f7d3da" stroke-width="0.9" fill="none"/>
<path d="M287.60,338.90 C320.60,343.90 348.60,317.90 346.60,310.50" stroke="#f7d3da" stroke-width="0.8" fill="none"/>
<path d="M287.60,360.70 C320.60,365.70 348.60,339.70 346.60,310.50" stroke="#f7d3da" stroke-width="0.8" fill="none"/>
<path d="M287.60,386.00 C325.60,388.00 350.60,354.00 347.60,310.50" stroke="#dfe4f7" stroke-width="0.8" fill="none"/>
<path d="M287.60,408.30 C325.60,410.30 350.60,376.30 347.60,310.50" stroke="#dfe4f7" stroke-width="0.8" fill="none"/>
<text x="210.80" y="328.70" font-size="9.0" textLength="54.00" lengthAdjust="spacingAndGlyphs">Motion (right)</text>
<g><path d="M251.80,337.90 L267.90,337.90" stroke="#cc2f4c" stroke-width="1.3" fill="none"/><path d="M272.00,337.90 L267.40,340.20 L267.40,335.60 Z" fill="#cc2f4c"/></g>
<text x="210.80" y="352.40" font-size="9.0" textLength="48.50" lengthAdjust="spacingAndGlyphs">Motion (left)</text>
<g><path d="M251.80,359.70 L267.90,359.70" stroke="#cc2f4c" stroke-width="1.3" fill="none"/><path d="M272.00,359.70 L267.40,362.00 L267.40,357.40 Z" fill="#cc2f4c"/></g>
<text x="210.80" y="378.10" font-size="9.0" textLength="53.40" lengthAdjust="spacingAndGlyphs">Colour (right)</text>
<g><path d="M251.80,384.00 L267.90,384.00" stroke="#cc2f4c" stroke-width="1.3" fill="none"/><path d="M272.00,384.00 L267.40,386.30 L267.40,381.70 Z" fill="#cc2f4c"/></g>
<text x="210.80" y="401.40" font-size="9.0" textLength="48.50" lengthAdjust="spacingAndGlyphs">Colour (left)</text>
<g><path d="M251.80,406.30 L267.90,406.30" stroke="#cc2f4c" stroke-width="1.3" fill="none"/><path d="M272.00,406.30 L267.40,408.60 L267.40,404.00 Z" fill="#cc2f4c"/></g>
<g><path d="M324.60,273.10 L324.60,290.00" stroke="#cc2f4c" stroke-width="1.3" fill="none"/><path d="M324.60,294.10 L322.30,289.50 L326.90,289.50 Z" fill="#cc2f4c"/></g>
<g><path d="M346.60,273.10 L346.60,290.00" stroke="#f6c9d1" stroke-width="1.0" fill="none"/><path d="M346.60,294.10 L344.30,289.50 L348.90,289.50 Z" fill="#f6c9d1"/></g>
<g><path d="M285.50,341.10 L379.47,357.81" stroke="#cc2f4c" stroke-width="1.3" fill="none"/><path d="M383.90,358.60 L378.56,360.09 L379.40,355.36 Z" fill="#cc2f4c"/></g>
<g><path d="M285.50,362.90 L379.45,377.22" stroke="#cc2f4c" stroke-width="1.3" fill="none"/><path d="M383.90,377.90 L378.60,379.52 L379.32,374.77 Z" fill="#cc2f4c"/></g>
<g><path d="M288.60,383.60 L379.51,363.19" stroke="#cc2f4c" stroke-width="1.3" fill="none"/><path d="M383.90,362.20 L379.55,365.64 L378.50,360.95 Z" fill="#cc2f4c"/></g>
<g><path d="M288.60,406.80 L379.55,382.75" stroke="#cc2f4c" stroke-width="1.3" fill="none"/><path d="M383.90,381.60 L379.68,385.20 L378.45,380.56 Z" fill="#cc2f4c"/></g>
<path d="M325.6,310.7 C322.56,336.60 303.00,338.76 289.1,339.2" stroke="#4a62cf" stroke-width="1.3" fill="none"/>
<path d="M326,310.7 C326.81,335.89 319.33,357.52 289.6,359.7" stroke="#4a62cf" stroke-width="1.3" fill="none"/>
<path d="M326.5,310.7 C328.89,346.31 327.42,376.18 293.5,382.9" stroke="#cc2f4c" stroke-width="1.3" fill="none"/><path d="M289.60,383.70 L294.04,380.37 L294.97,385.08 Z" fill="#cc2f4c"/>
<path d="M327,310.7 C329.46,344.69 337.23,389.48 293.5,403.2" stroke="#cc2f4c" stroke-width="1.3" fill="none"/><path d="M289.60,404.20 L293.67,400.43 L295.09,405.02 Z" fill="#cc2f4c"/>
<text x="362.60" y="352.70" font-size="8.2" text-anchor="middle">(−)</text>
<text x="362.60" y="365.30" font-size="8.2" text-anchor="middle">(+)</text>
<text x="362.60" y="381.40" font-size="8.2" text-anchor="middle">(−)</text>
<text x="362.60" y="396.70" font-size="8.2" text-anchor="middle">(+)</text>
<circle cx="324.60" cy="302.50" r="7.6" fill="#d9788a" stroke="#231f20" stroke-width="1"/>
<text x="324.60" y="305.70" font-size="8.9" text-anchor="middle">1</text>
<circle cx="346.60" cy="302.50" r="7.6" fill="#e9e9e9" stroke="#231f20" stroke-width="1"/>
<text x="346.60" y="305.70" font-size="8.9" text-anchor="middle">2</text>
<circle cx="280.60" cy="337.90" r="7.6" fill="#8495dc" stroke="#231f20" stroke-width="1"/>
<text x="280.60" y="341.10" font-size="8.9" text-anchor="middle">3</text>
<circle cx="280.60" cy="359.70" r="7.6" fill="#8495dc" stroke="#231f20" stroke-width="1"/>
<text x="280.60" y="362.90" font-size="8.9" text-anchor="middle">4</text>
<circle cx="280.60" cy="384.00" r="7.6" fill="#d75a71" stroke="#231f20" stroke-width="1"/>
<text x="280.60" y="387.20" font-size="8.9" text-anchor="middle">5</text>
<circle cx="280.60" cy="406.30" r="7.6" fill="#d75a71" stroke="#231f20" stroke-width="1"/>
<text x="280.60" y="409.50" font-size="8.9" text-anchor="middle">6</text>
<circle cx="289.10" cy="339.20" r="2.4" fill="#4a62cf"/>
<circle cx="289.60" cy="359.70" r="2.4" fill="#4a62cf"/>
<circle cx="387.90" cy="359.60" r="2.8" fill="#fff" stroke="#231f20" stroke-width="0.9"/>
<circle cx="387.90" cy="379.40" r="2.8" fill="#fff" stroke="#231f20" stroke-width="0.9"/>
<text x="380.60" y="350.80" font-size="8.3" textLength="32.60" lengthAdjust="spacingAndGlyphs">Right (1)</text>
<text x="383.00" y="396.50" font-size="8.3" textLength="27.80" lengthAdjust="spacingAndGlyphs">Left (2)</text>
<text x="329.00" y="431.60" font-size="8.3" text-anchor="middle" textLength="52.70" lengthAdjust="spacingAndGlyphs">Node activity</text>
<defs><linearGradient id="cbhc" x1="0" y1="0" x2="1" y2="0"><stop offset="0" stop-color="#4b67c8"/><stop offset="0.5" stop-color="#ffffff"/><stop offset="1" stop-color="#cb344d"/></linearGradient></defs>
<rect x="243.5" y="436.90" width="168.10" height="5.60" fill="url(#cbhc)" stroke="#777" stroke-width="0.4"/>
<path d="M243.50,442.50 V445.30" stroke="#555" stroke-width="0.7"/>
<text x="243.50" y="455.00" font-size="7.3" text-anchor="middle">−1</text>
<path d="M327.55,442.50 V445.30" stroke="#555" stroke-width="0.7"/>
<text x="327.55" y="455.00" font-size="7.3" text-anchor="middle">0</text>
<path d="M411.60,442.50 V445.30" stroke="#555" stroke-width="0.7"/>
<text x="411.60" y="455.00" font-size="7.3" text-anchor="middle">1</text>
<defs><filter id="bl6" x="-30%" y="-30%" width="160%" height="160%"><feGaussianBlur stdDeviation="0.6"/></filter><filter id="bl8" x="-30%" y="-30%" width="160%" height="160%"><feGaussianBlur stdDeviation="0.8"/></filter><filter id="bl10" x="-30%" y="-30%" width="160%" height="160%"><feGaussianBlur stdDeviation="1.0"/></filter><filter id="bl12" x="-30%" y="-30%" width="160%" height="160%"><feGaussianBlur stdDeviation="1.2"/></filter><filter id="bl15" x="-30%" y="-30%" width="160%" height="160%"><feGaussianBlur stdDeviation="1.5"/></filter><filter id="bl20" x="-30%" y="-30%" width="160%" height="160%"><feGaussianBlur stdDeviation="2.0"/></filter><filter id="bl25" x="-30%" y="-30%" width="160%" height="160%"><feGaussianBlur stdDeviation="2.5"/></filter><filter id="bl28" x="-30%" y="-30%" width="160%" height="160%"><feGaussianBlur stdDeviation="2.8"/></filter><filter id="bl30" x="-30%" y="-30%" width="160%" height="160%"><feGaussianBlur stdDeviation="3.0"/></filter><filter id="bl32" x="-30%" y="-30%" width="160%" height="160%"><feGaussianBlur stdDeviation="3.2"/></filter><filter id="bl35" x="-30%" y="-30%" width="160%" height="160%"><feGaussianBlur stdDeviation="3.5"/></filter><filter id="bl40" x="-30%" y="-30%" width="160%" height="160%"><feGaussianBlur stdDeviation="4.0"/></filter></defs>
<clipPath id="ch1b"><rect x="460.1" y="56.3" width="98.90" height="98.00"/></clipPath>
<clipPath id="cbh1b"><path d="M527.50,50.00 C527.33,51.00 526.98,54.58 526.50,56.00 C526.02,57.42 525.68,57.33 524.60,58.50 C523.52,59.67 521.48,61.52 520.00,63.00 C518.52,64.48 516.78,65.90 515.70,67.40 C514.62,68.90 514.07,70.50 513.50,72.00 C512.93,73.50 512.72,74.73 512.30,76.40 C511.88,78.07 511.48,80.13 511.00,82.00 C510.52,83.87 509.82,85.93 509.40,87.60 C508.98,89.27 508.48,90.77 508.50,92.00 C508.52,93.23 509.53,94.00 509.50,95.00 C509.47,96.00 508.33,97.00 508.30,98.00 C508.27,99.00 509.32,100.00 509.30,101.00 C509.28,102.00 508.25,103.00 508.20,104.00 C508.15,105.00 509.08,106.00 509.00,107.00 C508.92,108.00 507.87,108.67 507.70,110.00 C507.53,111.33 508.12,113.33 508.00,115.00 C507.88,116.67 507.33,118.33 507.00,120.00 C506.67,121.67 506.30,123.33 506.00,125.00 C505.70,126.67 505.47,128.78 505.20,130.00 C504.93,131.22 504.68,131.30 504.40,132.30 C504.12,133.30 503.98,134.72 503.50,136.00 C503.02,137.28 502.63,138.75 501.50,140.00 C500.37,141.25 498.03,142.33 496.70,143.50 C495.37,144.67 494.63,145.52 493.50,147.00 C492.37,148.48 490.82,150.90 489.90,152.40 C488.98,153.90 488.48,154.73 488.00,156.00 C487.52,157.27 487.17,159.33 487.00,160.00 L435.1,160 L435.1,50 Z"/></clipPath><clipPath id="crh1b"><path d="M527.50,50.00 C527.33,51.00 526.98,54.58 526.50,56.00 C526.02,57.42 525.68,57.33 524.60,58.50 C523.52,59.67 521.48,61.52 520.00,63.00 C518.52,64.48 516.78,65.90 515.70,67.40 C514.62,68.90 514.07,70.50 513.50,72.00 C512.93,73.50 512.72,74.73 512.30,76.40 C511.88,78.07 511.48,80.13 511.00,82.00 C510.52,83.87 509.82,85.93 509.40,87.60 C508.98,89.27 508.48,90.77 508.50,92.00 C508.52,93.23 509.53,94.00 509.50,95.00 C509.47,96.00 508.33,97.00 508.30,98.00 C508.27,99.00 509.32,100.00 509.30,101.00 C509.28,102.00 508.25,103.00 508.20,104.00 C508.15,105.00 509.08,106.00 509.00,107.00 C508.92,108.00 507.87,108.67 507.70,110.00 C507.53,111.33 508.12,113.33 508.00,115.00 C507.88,116.67 507.33,118.33 507.00,120.00 C506.67,121.67 506.30,123.33 506.00,125.00 C505.70,126.67 505.47,128.78 505.20,130.00 C504.93,131.22 504.68,131.30 504.40,132.30 C504.12,133.30 503.98,134.72 503.50,136.00 C503.02,137.28 502.63,138.75 501.50,140.00 C500.37,141.25 498.03,142.33 496.70,143.50 C495.37,144.67 494.63,145.52 493.50,147.00 C492.37,148.48 490.82,150.90 489.90,152.40 C488.98,153.90 488.48,154.73 488.00,156.00 C487.52,157.27 487.17,159.33 487.00,160.00 L584.0,160 L584.0,50 Z"/></clipPath>
<g clip-path="url(#ch1b)"><rect x="460.1" y="56.3" width="98.90" height="98.00" fill="#fff"/><g clip-path="url(#cbh1b)"><path d="M522.00,50.00 C521.83,51.00 521.48,54.58 521.00,56.00 C520.52,57.42 520.18,57.33 519.10,58.50 C518.02,59.67 515.98,61.52 514.50,63.00 C513.02,64.48 511.28,65.90 510.20,67.40 C509.12,68.90 508.57,70.50 508.00,72.00 C507.43,73.50 507.22,74.73 506.80,76.40 C506.38,78.07 505.98,80.13 505.50,82.00 C505.02,83.87 504.32,85.93 503.90,87.60 C503.48,89.27 502.98,90.77 503.00,92.00 C503.02,93.23 504.03,94.00 504.00,95.00 C503.97,96.00 502.83,97.00 502.80,98.00 C502.77,99.00 503.82,100.00 503.80,101.00 C503.78,102.00 502.75,103.00 502.70,104.00 C502.65,105.00 503.58,106.00 503.50,107.00 C503.42,108.00 502.37,108.67 502.20,110.00 C502.03,111.33 502.62,113.33 502.50,115.00 C502.38,116.67 501.83,118.33 501.50,120.00 C501.17,121.67 500.80,123.33 500.50,125.00 C500.20,126.67 499.97,128.78 499.70,130.00 C499.43,131.22 499.18,131.30 498.90,132.30 C498.62,133.30 498.48,134.72 498.00,136.00 C497.52,137.28 497.13,138.75 496.00,140.00 C494.87,141.25 492.53,142.33 491.20,143.50 C489.87,144.67 489.13,145.52 488.00,147.00 C486.87,148.48 485.32,150.90 484.40,152.40 C483.48,153.90 482.98,154.73 482.50,156.00 C482.02,157.27 481.67,159.33 481.50,160.00 L435.1,160 L435.1,50 Z" fill="#4b67c8" filter="url(#bf3_80)"/></g><g clip-path="url(#crh1b)"><path d="M533.50,50.00 C533.33,51.00 532.98,54.58 532.50,56.00 C532.02,57.42 531.68,57.33 530.60,58.50 C529.52,59.67 527.48,61.52 526.00,63.00 C524.52,64.48 522.78,65.90 521.70,67.40 C520.62,68.90 520.07,70.50 519.50,72.00 C518.93,73.50 518.72,74.73 518.30,76.40 C517.88,78.07 517.48,80.13 517.00,82.00 C516.52,83.87 515.82,85.93 515.40,87.60 C514.98,89.27 514.48,90.77 514.50,92.00 C514.52,93.23 515.53,94.00 515.50,95.00 C515.47,96.00 514.33,97.00 514.30,98.00 C514.27,99.00 515.32,100.00 515.30,101.00 C515.28,102.00 514.25,103.00 514.20,104.00 C514.15,105.00 515.08,106.00 515.00,107.00 C514.92,108.00 513.87,108.67 513.70,110.00 C513.53,111.33 514.12,113.33 514.00,115.00 C513.88,116.67 513.33,118.33 513.00,120.00 C512.67,121.67 512.30,123.33 512.00,125.00 C511.70,126.67 511.47,128.78 511.20,130.00 C510.93,131.22 510.68,131.30 510.40,132.30 C510.12,133.30 509.98,134.72 509.50,136.00 C509.02,137.28 508.63,138.75 507.50,140.00 C506.37,141.25 504.03,142.33 502.70,143.50 C501.37,144.67 500.63,145.52 499.50,147.00 C498.37,148.48 496.82,150.90 495.90,152.40 C494.98,153.90 494.48,154.73 494.00,156.00 C493.52,157.27 493.17,159.33 493.00,160.00 L584.0,160 L584.0,50 Z" fill="#cb344d" filter="url(#bf4_00)"/><path d="M528.70,50.00 C528.53,51.00 528.18,54.58 527.70,56.00 C527.22,57.42 526.88,57.33 525.80,58.50 C524.72,59.67 522.68,61.52 521.20,63.00 C519.72,64.48 517.98,65.90 516.90,67.40 C515.82,68.90 515.27,70.50 514.70,72.00 C514.13,73.50 513.92,74.73 513.50,76.40 C513.08,78.07 512.68,80.13 512.20,82.00 C511.72,83.87 511.02,85.93 510.60,87.60 C510.18,89.27 509.68,90.77 509.70,92.00 C509.72,93.23 510.73,94.00 510.70,95.00 C510.67,96.00 509.53,97.00 509.50,98.00 C509.47,99.00 510.52,100.00 510.50,101.00 C510.48,102.00 509.45,103.00 509.40,104.00 C509.35,105.00 510.28,106.00 510.20,107.00 C510.12,108.00 509.07,108.67 508.90,110.00 C508.73,111.33 509.32,113.33 509.20,115.00 C509.08,116.67 508.53,118.33 508.20,120.00 C507.87,121.67 507.50,123.33 507.20,125.00 C506.90,126.67 506.67,128.78 506.40,130.00 C506.13,131.22 505.88,131.30 505.60,132.30 C505.32,133.30 505.18,134.72 504.70,136.00 C504.22,137.28 503.83,138.75 502.70,140.00 C501.57,141.25 499.23,142.33 497.90,143.50 C496.57,144.67 495.83,145.52 494.70,147.00 C493.57,148.48 492.02,150.90 491.10,152.40 C490.18,153.90 489.68,154.73 489.20,156.00 C488.72,157.27 488.37,159.33 488.20,160.00 L584.0,160 L584.0,50 Z" fill="#cb344d" fill-opacity="0.65" filter="url(#bf1_00)"/></g></g>
<clipPath id="ch2b"><rect x="586.0" y="56.3" width="98.20" height="98.00"/></clipPath>
<clipPath id="cbh2b"><path d="M566.00,123.50 C569.50,123.33 583.00,123.00 587.00,122.50 C591.00,122.00 589.00,121.67 590.00,120.50 C591.00,119.33 592.00,116.98 593.00,115.50 C594.00,114.02 594.83,112.37 596.00,111.60 C597.17,110.83 598.50,111.08 600.00,110.90 C601.50,110.72 603.33,110.62 605.00,110.50 C606.67,110.38 608.33,110.50 610.00,110.20 C611.67,109.90 613.67,109.33 615.00,108.70 C616.33,108.07 617.00,106.92 618.00,106.40 C619.00,105.88 619.83,105.80 621.00,105.60 C622.17,105.40 623.50,105.13 625.00,105.20 C626.50,105.27 628.33,105.92 630.00,106.00 C631.67,106.08 633.33,105.62 635.00,105.70 C636.67,105.78 638.33,106.33 640.00,106.50 C641.67,106.67 643.33,106.52 645.00,106.70 C646.67,106.88 648.33,107.80 650.00,107.60 C651.67,107.40 653.50,106.43 655.00,105.50 C656.50,104.57 657.67,102.77 659.00,102.00 C660.33,101.23 661.50,101.17 663.00,100.90 C664.50,100.63 666.33,100.62 668.00,100.40 C669.67,100.18 671.50,100.10 673.00,99.60 C674.50,99.10 675.67,98.50 677.00,97.40 C678.33,96.30 679.83,94.65 681.00,93.00 C682.17,91.35 682.50,90.00 684.00,87.50 C685.50,85.00 689.00,79.58 690.00,78.00 L690,31.299999999999997 L566,31.299999999999997 Z"/></clipPath><clipPath id="crh2b"><path d="M566.00,123.50 C569.50,123.33 583.00,123.00 587.00,122.50 C591.00,122.00 589.00,121.67 590.00,120.50 C591.00,119.33 592.00,116.98 593.00,115.50 C594.00,114.02 594.83,112.37 596.00,111.60 C597.17,110.83 598.50,111.08 600.00,110.90 C601.50,110.72 603.33,110.62 605.00,110.50 C606.67,110.38 608.33,110.50 610.00,110.20 C611.67,109.90 613.67,109.33 615.00,108.70 C616.33,108.07 617.00,106.92 618.00,106.40 C619.00,105.88 619.83,105.80 621.00,105.60 C622.17,105.40 623.50,105.13 625.00,105.20 C626.50,105.27 628.33,105.92 630.00,106.00 C631.67,106.08 633.33,105.62 635.00,105.70 C636.67,105.78 638.33,106.33 640.00,106.50 C641.67,106.67 643.33,106.52 645.00,106.70 C646.67,106.88 648.33,107.80 650.00,107.60 C651.67,107.40 653.50,106.43 655.00,105.50 C656.50,104.57 657.67,102.77 659.00,102.00 C660.33,101.23 661.50,101.17 663.00,100.90 C664.50,100.63 666.33,100.62 668.00,100.40 C669.67,100.18 671.50,100.10 673.00,99.60 C674.50,99.10 675.67,98.50 677.00,97.40 C678.33,96.30 679.83,94.65 681.00,93.00 C682.17,91.35 682.50,90.00 684.00,87.50 C685.50,85.00 689.00,79.58 690.00,78.00 L690,179.3 L566,179.3 Z"/></clipPath>
<g clip-path="url(#ch2b)"><rect x="586.0" y="56.3" width="98.20" height="98.00" fill="#fff"/><g clip-path="url(#cbh2b)"><path d="M566.00,117.50 C569.50,117.33 583.00,117.00 587.00,116.50 C591.00,116.00 589.00,115.67 590.00,114.50 C591.00,113.33 592.00,110.98 593.00,109.50 C594.00,108.02 594.83,106.37 596.00,105.60 C597.17,104.83 598.50,105.08 600.00,104.90 C601.50,104.72 603.33,104.62 605.00,104.50 C606.67,104.38 608.33,104.50 610.00,104.20 C611.67,103.90 613.67,103.33 615.00,102.70 C616.33,102.07 617.00,100.92 618.00,100.40 C619.00,99.88 619.83,99.80 621.00,99.60 C622.17,99.40 623.50,99.13 625.00,99.20 C626.50,99.27 628.33,99.92 630.00,100.00 C631.67,100.08 633.33,99.62 635.00,99.70 C636.67,99.78 638.33,100.33 640.00,100.50 C641.67,100.67 643.33,100.52 645.00,100.70 C646.67,100.88 648.33,101.80 650.00,101.60 C651.67,101.40 653.50,100.43 655.00,99.50 C656.50,98.57 657.67,96.77 659.00,96.00 C660.33,95.23 661.50,95.17 663.00,94.90 C664.50,94.63 666.33,94.62 668.00,94.40 C669.67,94.18 671.50,94.10 673.00,93.60 C674.50,93.10 675.67,92.50 677.00,91.40 C678.33,90.30 679.83,88.65 681.00,87.00 C682.17,85.35 682.50,84.00 684.00,81.50 C685.50,79.00 689.00,73.58 690.00,72.00 L690,31.299999999999997 L566,31.299999999999997 Z" fill="#4b67c8" filter="url(#bf4_00)"/></g><g clip-path="url(#crh2b)"><path d="M566.00,127.00 C569.50,126.83 583.00,126.50 587.00,126.00 C591.00,125.50 589.00,125.17 590.00,124.00 C591.00,122.83 592.00,120.48 593.00,119.00 C594.00,117.52 594.83,115.87 596.00,115.10 C597.17,114.33 598.50,114.58 600.00,114.40 C601.50,114.22 603.33,114.12 605.00,114.00 C606.67,113.88 608.33,114.00 610.00,113.70 C611.67,113.40 613.67,112.83 615.00,112.20 C616.33,111.57 617.00,110.42 618.00,109.90 C619.00,109.38 619.83,109.30 621.00,109.10 C622.17,108.90 623.50,108.63 625.00,108.70 C626.50,108.77 628.33,109.42 630.00,109.50 C631.67,109.58 633.33,109.12 635.00,109.20 C636.67,109.28 638.33,109.83 640.00,110.00 C641.67,110.17 643.33,110.02 645.00,110.20 C646.67,110.38 648.33,111.30 650.00,111.10 C651.67,110.90 653.50,109.93 655.00,109.00 C656.50,108.07 657.67,106.27 659.00,105.50 C660.33,104.73 661.50,104.67 663.00,104.40 C664.50,104.13 666.33,104.12 668.00,103.90 C669.67,103.68 671.50,103.60 673.00,103.10 C674.50,102.60 675.67,102.00 677.00,100.90 C678.33,99.80 679.83,98.15 681.00,96.50 C682.17,94.85 682.50,93.50 684.00,91.00 C685.50,88.50 689.00,83.08 690.00,81.50 L690,179.3 L566,179.3 Z" fill="#cb344d" filter="url(#bf2_00)"/><path d="M566.00,124.70 C569.50,124.53 583.00,124.20 587.00,123.70 C591.00,123.20 589.00,122.87 590.00,121.70 C591.00,120.53 592.00,118.18 593.00,116.70 C594.00,115.22 594.83,113.57 596.00,112.80 C597.17,112.03 598.50,112.28 600.00,112.10 C601.50,111.92 603.33,111.82 605.00,111.70 C606.67,111.58 608.33,111.70 610.00,111.40 C611.67,111.10 613.67,110.53 615.00,109.90 C616.33,109.27 617.00,108.12 618.00,107.60 C619.00,107.08 619.83,107.00 621.00,106.80 C622.17,106.60 623.50,106.33 625.00,106.40 C626.50,106.47 628.33,107.12 630.00,107.20 C631.67,107.28 633.33,106.82 635.00,106.90 C636.67,106.98 638.33,107.53 640.00,107.70 C641.67,107.87 643.33,107.72 645.00,107.90 C646.67,108.08 648.33,109.00 650.00,108.80 C651.67,108.60 653.50,107.63 655.00,106.70 C656.50,105.77 657.67,103.97 659.00,103.20 C660.33,102.43 661.50,102.37 663.00,102.10 C664.50,101.83 666.33,101.82 668.00,101.60 C669.67,101.38 671.50,101.30 673.00,100.80 C674.50,100.30 675.67,99.70 677.00,98.60 C678.33,97.50 679.83,95.85 681.00,94.20 C682.17,92.55 682.50,91.20 684.00,88.70 C685.50,86.20 689.00,80.78 690.00,79.20 L690,179.3 L566,179.3 Z" fill="#cb344d" fill-opacity="0.7" filter="url(#bf1_00)"/></g></g>
<rect x="460.1" y="56.3" width="98.90" height="98.00" fill="none" stroke="#555555" stroke-width="0.6"/>
<path d="M457.90,58.20 H460.1" stroke="#7d7d7d" stroke-width="0.7"/>
<text x="453.80" y="60.80" font-size="7.3" text-anchor="end">−4</text>
<path d="M457.90,105.60 H460.1" stroke="#7d7d7d" stroke-width="0.7"/>
<text x="453.80" y="108.20" font-size="7.3" text-anchor="end">0</text>
<path d="M457.90,153.20 H460.1" stroke="#7d7d7d" stroke-width="0.7"/>
<text x="453.80" y="155.80" font-size="7.3" text-anchor="end">4</text>
<path d="M466.00,154.30 V156.70" stroke="#7d7d7d" stroke-width="0.7"/>
<text x="466.00" y="166.50" font-size="7.3" text-anchor="middle">−1</text>
<path d="M509.60,154.30 V156.70" stroke="#7d7d7d" stroke-width="0.7"/>
<text x="509.60" y="166.50" font-size="7.3" text-anchor="middle">0</text>
<path d="M553.30,154.30 V156.70" stroke="#7d7d7d" stroke-width="0.7"/>
<text x="553.30" y="166.50" font-size="7.3" text-anchor="middle">1</text>
<rect x="586.0" y="56.3" width="98.20" height="98.00" fill="none" stroke="#555555" stroke-width="0.6"/>
<path d="M583.80,62.50 H586.0" stroke="#7d7d7d" stroke-width="0.7"/>
<text x="579.70" y="65.10" font-size="7.3" text-anchor="end">−1</text>
<path d="M583.80,105.80 H586.0" stroke="#7d7d7d" stroke-width="0.7"/>
<text x="579.70" y="108.40" font-size="7.3" text-anchor="end">0</text>
<path d="M583.80,149.20 H586.0" stroke="#7d7d7d" stroke-width="0.7"/>
<text x="579.70" y="151.80" font-size="7.3" text-anchor="end">1</text>
<path d="M587.30,154.30 V156.70" stroke="#7d7d7d" stroke-width="0.7"/>
<text x="587.30" y="166.50" font-size="7.3" text-anchor="middle">−4</text>
<path d="M635.30,154.30 V156.70" stroke="#7d7d7d" stroke-width="0.7"/>
<text x="635.30" y="166.50" font-size="7.3" text-anchor="middle">0</text>
<path d="M682.80,154.30 V156.70" stroke="#7d7d7d" stroke-width="0.7"/>
<text x="682.80" y="166.50" font-size="7.3" text-anchor="middle">4</text>
<text x="509.70" y="179.90" font-size="9.2" text-anchor="middle" textLength="72.00" lengthAdjust="spacingAndGlyphs">Motion coherence</text>
<text x="635.50" y="179.90" font-size="9.2" text-anchor="middle" textLength="72.00" lengthAdjust="spacingAndGlyphs">Motion coherence</text>
<text transform="translate(439.0,106.80) rotate(-90)" font-size="8.8" text-anchor="middle" textLength="72" lengthAdjust="spacingAndGlyphs">Colour coherence</text>
<clipPath id="ch1d"><rect x="460.1" y="292.5" width="98.90" height="98.00"/></clipPath>
<clipPath id="cbh1d"><path d="M513.10,284.00 L513.10,293.30 L513.40,296.60 L510.40,301.00 L507.10,305.40 L506.00,308.60 L507.60,311.90 L511.40,316.30 L512.00,318.50 L509.30,321.80 L507.60,325.10 L508.70,328.40 L509.80,332.20 L510.70,337.20 L512.50,340.80 L510.70,343.20 L511.90,345.70 L510.70,349.30 L509.50,352.90 L508.30,357.70 L507.70,362.50 L507.10,367.40 L506.50,372.20 L505.90,377.00 L505.30,381.80 L504.90,386.70 L504.70,389.70 L504.50,398.00 L435.1,398 L435.1,284 Z"/></clipPath><clipPath id="crh1d"><path d="M513.10,284.00 L513.10,293.30 L513.40,296.60 L510.40,301.00 L507.10,305.40 L506.00,308.60 L507.60,311.90 L511.40,316.30 L512.00,318.50 L509.30,321.80 L507.60,325.10 L508.70,328.40 L509.80,332.20 L510.70,337.20 L512.50,340.80 L510.70,343.20 L511.90,345.70 L510.70,349.30 L509.50,352.90 L508.30,357.70 L507.70,362.50 L507.10,367.40 L506.50,372.20 L505.90,377.00 L505.30,381.80 L504.90,386.70 L504.70,389.70 L504.50,398.00 L584.0,398 L584.0,284 Z"/></clipPath>
<g clip-path="url(#ch1d)"><rect x="460.1" y="292.5" width="98.90" height="98.00" fill="#fff"/><g clip-path="url(#cbh1d)"><path d="M506.80,284.00 C506.80,285.55 506.75,291.20 506.80,293.30 C506.85,295.40 507.55,295.32 507.10,296.60 C506.65,297.88 505.15,299.53 504.10,301.00 C503.05,302.47 501.53,304.13 500.80,305.40 C500.07,306.67 499.62,307.52 499.70,308.60 C499.78,309.68 500.40,310.62 501.30,311.90 C502.20,313.18 504.37,315.20 505.10,316.30 C505.83,317.40 506.05,317.58 505.70,318.50 C505.35,319.42 503.73,320.70 503.00,321.80 C502.27,322.90 501.40,324.00 501.30,325.10 C501.20,326.20 502.03,327.22 502.40,328.40 C502.77,329.58 503.17,330.73 503.50,332.20 C503.83,333.67 503.95,335.77 504.40,337.20 C504.85,338.63 506.20,339.80 506.20,340.80 C506.20,341.80 504.50,342.38 504.40,343.20 C504.30,344.02 505.60,344.68 505.60,345.70 C505.60,346.72 504.80,348.10 504.40,349.30 C504.00,350.50 503.60,351.50 503.20,352.90 C502.80,354.30 502.30,356.10 502.00,357.70 C501.70,359.30 501.60,360.88 501.40,362.50 C501.20,364.12 501.00,365.78 500.80,367.40 C500.60,369.02 500.40,370.60 500.20,372.20 C500.00,373.80 499.80,375.40 499.60,377.00 C499.40,378.60 499.17,380.18 499.00,381.80 C498.83,383.42 498.70,385.38 498.60,386.70 C498.50,388.02 498.47,387.82 498.40,389.70 C498.33,391.58 498.23,396.62 498.20,398.00 L435.1,398 L435.1,284 Z" fill="#4b67c8" filter="url(#bf4_40)"/></g><g clip-path="url(#crh1d)"><path d="M519.10,284.00 C519.10,285.55 519.05,291.20 519.10,293.30 C519.15,295.40 519.85,295.32 519.40,296.60 C518.95,297.88 517.45,299.53 516.40,301.00 C515.35,302.47 513.83,304.13 513.10,305.40 C512.37,306.67 511.92,307.52 512.00,308.60 C512.08,309.68 512.70,310.62 513.60,311.90 C514.50,313.18 516.67,315.20 517.40,316.30 C518.13,317.40 518.35,317.58 518.00,318.50 C517.65,319.42 516.03,320.70 515.30,321.80 C514.57,322.90 513.70,324.00 513.60,325.10 C513.50,326.20 514.33,327.22 514.70,328.40 C515.07,329.58 515.47,330.73 515.80,332.20 C516.13,333.67 516.25,335.77 516.70,337.20 C517.15,338.63 518.50,339.80 518.50,340.80 C518.50,341.80 516.80,342.38 516.70,343.20 C516.60,344.02 517.90,344.68 517.90,345.70 C517.90,346.72 517.10,348.10 516.70,349.30 C516.30,350.50 515.90,351.50 515.50,352.90 C515.10,354.30 514.60,356.10 514.30,357.70 C514.00,359.30 513.90,360.88 513.70,362.50 C513.50,364.12 513.30,365.78 513.10,367.40 C512.90,369.02 512.70,370.60 512.50,372.20 C512.30,373.80 512.10,375.40 511.90,377.00 C511.70,378.60 511.47,380.18 511.30,381.80 C511.13,383.42 511.00,385.38 510.90,386.70 C510.80,388.02 510.77,387.82 510.70,389.70 C510.63,391.58 510.53,396.62 510.50,398.00 L584.0,398 L584.0,284 Z" fill="#cb344d" filter="url(#bf4_00)"/><path d="M514.10,284.00 L514.10,293.30 L514.40,296.60 L511.40,301.00 L508.10,305.40 L507.00,308.60 L508.60,311.90 L512.40,316.30 L513.00,318.50 L510.30,321.80 L508.60,325.10 L509.70,328.40 L510.80,332.20 L511.70,337.20 L513.50,340.80 L511.70,343.20 L512.90,345.70 L511.70,349.30 L510.50,352.90 L509.30,357.70 L508.70,362.50 L508.10,367.40 L507.50,372.20 L506.90,377.00 L506.30,381.80 L505.90,386.70 L505.70,389.70 L505.50,398.00 L584.0,398 L584.0,284 Z" fill="#cb344d" fill-opacity="0.6" filter="url(#bf1_00)"/></g></g>
<clipPath id="ch2d"><rect x="586.0" y="292.5" width="98.20" height="98.00"/></clipPath>
<clipPath id="cbh2d"><path d="M566.00,338.50 C569.50,338.53 582.67,338.42 587.00,338.70 C591.33,338.98 590.33,339.82 592.00,340.20 C593.67,340.58 595.33,340.80 597.00,341.00 C598.67,341.20 600.33,341.33 602.00,341.40 C603.67,341.47 605.33,341.30 607.00,341.40 C608.67,341.50 610.33,341.83 612.00,342.00 C613.67,342.17 615.67,342.40 617.00,342.40 C618.33,342.40 619.17,341.95 620.00,342.00 C620.83,342.05 621.17,342.42 622.00,342.70 C622.83,342.98 623.67,343.62 625.00,343.70 C626.33,343.78 628.67,343.42 630.00,343.20 C631.33,342.98 631.83,342.32 633.00,342.40 C634.17,342.48 635.67,343.43 637.00,343.70 C638.33,343.97 639.67,343.78 641.00,344.00 C642.33,344.22 643.83,344.77 645.00,345.00 C646.17,345.23 647.00,345.65 648.00,345.40 C649.00,345.15 649.83,344.00 651.00,343.50 C652.17,343.00 653.50,342.70 655.00,342.40 C656.50,342.10 658.33,342.07 660.00,341.70 C661.67,341.33 663.33,340.62 665.00,340.20 C666.67,339.78 668.33,339.40 670.00,339.20 C671.67,339.00 673.33,339.08 675.00,339.00 C676.67,338.92 678.50,338.82 680.00,338.70 C681.50,338.58 680.67,338.42 684.00,338.30 C687.33,338.18 697.33,338.05 700.00,338.00 L700,267.5 L566,267.5 Z"/></clipPath><clipPath id="crh2d"><path d="M566.00,338.50 C569.50,338.53 582.67,338.42 587.00,338.70 C591.33,338.98 590.33,339.82 592.00,340.20 C593.67,340.58 595.33,340.80 597.00,341.00 C598.67,341.20 600.33,341.33 602.00,341.40 C603.67,341.47 605.33,341.30 607.00,341.40 C608.67,341.50 610.33,341.83 612.00,342.00 C613.67,342.17 615.67,342.40 617.00,342.40 C618.33,342.40 619.17,341.95 620.00,342.00 C620.83,342.05 621.17,342.42 622.00,342.70 C622.83,342.98 623.67,343.62 625.00,343.70 C626.33,343.78 628.67,343.42 630.00,343.20 C631.33,342.98 631.83,342.32 633.00,342.40 C634.17,342.48 635.67,343.43 637.00,343.70 C638.33,343.97 639.67,343.78 641.00,344.00 C642.33,344.22 643.83,344.77 645.00,345.00 C646.17,345.23 647.00,345.65 648.00,345.40 C649.00,345.15 649.83,344.00 651.00,343.50 C652.17,343.00 653.50,342.70 655.00,342.40 C656.50,342.10 658.33,342.07 660.00,341.70 C661.67,341.33 663.33,340.62 665.00,340.20 C666.67,339.78 668.33,339.40 670.00,339.20 C671.67,339.00 673.33,339.08 675.00,339.00 C676.67,338.92 678.50,338.82 680.00,338.70 C681.50,338.58 680.67,338.42 684.00,338.30 C687.33,338.18 697.33,338.05 700.00,338.00 L700,415.5 L566,415.5 Z"/></clipPath>
<g clip-path="url(#ch2d)"><rect x="586.0" y="292.5" width="98.20" height="98.00" fill="#fff"/><g clip-path="url(#cbh2d)"><path d="M566.00,333.50 C569.50,333.53 582.67,333.42 587.00,333.70 C591.33,333.98 590.33,334.82 592.00,335.20 C593.67,335.58 595.33,335.80 597.00,336.00 C598.67,336.20 600.33,336.33 602.00,336.40 C603.67,336.47 605.33,336.30 607.00,336.40 C608.67,336.50 610.33,336.83 612.00,337.00 C613.67,337.17 615.67,337.40 617.00,337.40 C618.33,337.40 619.17,336.95 620.00,337.00 C620.83,337.05 621.17,337.42 622.00,337.70 C622.83,337.98 623.67,338.62 625.00,338.70 C626.33,338.78 628.67,338.42 630.00,338.20 C631.33,337.98 631.83,337.32 633.00,337.40 C634.17,337.48 635.67,338.43 637.00,338.70 C638.33,338.97 639.67,338.78 641.00,339.00 C642.33,339.22 643.83,339.77 645.00,340.00 C646.17,340.23 647.00,340.65 648.00,340.40 C649.00,340.15 649.83,339.00 651.00,338.50 C652.17,338.00 653.50,337.70 655.00,337.40 C656.50,337.10 658.33,337.07 660.00,336.70 C661.67,336.33 663.33,335.62 665.00,335.20 C666.67,334.78 668.33,334.40 670.00,334.20 C671.67,334.00 673.33,334.08 675.00,334.00 C676.67,333.92 678.50,333.82 680.00,333.70 C681.50,333.58 680.67,333.42 684.00,333.30 C687.33,333.18 697.33,333.05 700.00,333.00 L700,267.5 L566,267.5 Z" fill="#4b67c8" filter="url(#bf3_50)"/></g><g clip-path="url(#crh2d)"><path d="M566.00,343.50 C569.50,343.53 582.67,343.42 587.00,343.70 C591.33,343.98 590.33,344.82 592.00,345.20 C593.67,345.58 595.33,345.80 597.00,346.00 C598.67,346.20 600.33,346.33 602.00,346.40 C603.67,346.47 605.33,346.30 607.00,346.40 C608.67,346.50 610.33,346.83 612.00,347.00 C613.67,347.17 615.67,347.40 617.00,347.40 C618.33,347.40 619.17,346.95 620.00,347.00 C620.83,347.05 621.17,347.42 622.00,347.70 C622.83,347.98 623.67,348.62 625.00,348.70 C626.33,348.78 628.67,348.42 630.00,348.20 C631.33,347.98 631.83,347.32 633.00,347.40 C634.17,347.48 635.67,348.43 637.00,348.70 C638.33,348.97 639.67,348.78 641.00,349.00 C642.33,349.22 643.83,349.77 645.00,350.00 C646.17,350.23 647.00,350.65 648.00,350.40 C649.00,350.15 649.83,349.00 651.00,348.50 C652.17,348.00 653.50,347.70 655.00,347.40 C656.50,347.10 658.33,347.07 660.00,346.70 C661.67,346.33 663.33,345.62 665.00,345.20 C666.67,344.78 668.33,344.40 670.00,344.20 C671.67,344.00 673.33,344.08 675.00,344.00 C676.67,343.92 678.50,343.82 680.00,343.70 C681.50,343.58 680.67,343.42 684.00,343.30 C687.33,343.18 697.33,343.05 700.00,343.00 L700,415.5 L566,415.5 Z" fill="#cb344d" filter="url(#bf3_50)"/><path d="M566.00,339.70 C569.50,339.73 582.67,339.62 587.00,339.90 C591.33,340.18 590.33,341.02 592.00,341.40 C593.67,341.78 595.33,342.00 597.00,342.20 C598.67,342.40 600.33,342.53 602.00,342.60 C603.67,342.67 605.33,342.50 607.00,342.60 C608.67,342.70 610.33,343.03 612.00,343.20 C613.67,343.37 615.67,343.60 617.00,343.60 C618.33,343.60 619.17,343.15 620.00,343.20 C620.83,343.25 621.17,343.62 622.00,343.90 C622.83,344.18 623.67,344.82 625.00,344.90 C626.33,344.98 628.67,344.62 630.00,344.40 C631.33,344.18 631.83,343.52 633.00,343.60 C634.17,343.68 635.67,344.63 637.00,344.90 C638.33,345.17 639.67,344.98 641.00,345.20 C642.33,345.42 643.83,345.97 645.00,346.20 C646.17,346.43 647.00,346.85 648.00,346.60 C649.00,346.35 649.83,345.20 651.00,344.70 C652.17,344.20 653.50,343.90 655.00,343.60 C656.50,343.30 658.33,343.27 660.00,342.90 C661.67,342.53 663.33,341.82 665.00,341.40 C666.67,340.98 668.33,340.60 670.00,340.40 C671.67,340.20 673.33,340.28 675.00,340.20 C676.67,340.12 678.50,340.02 680.00,339.90 C681.50,339.78 680.67,339.62 684.00,339.50 C687.33,339.38 697.33,339.25 700.00,339.20 L700,415.5 L566,415.5 Z" fill="#cb344d" fill-opacity="0.4" filter="url(#bf1_00)"/></g></g>
<rect x="460.1" y="292.5" width="98.90" height="98.00" fill="none" stroke="#555555" stroke-width="0.6"/>
<path d="M457.90,294.40 H460.1" stroke="#7d7d7d" stroke-width="0.7"/>
<text x="453.80" y="297.00" font-size="7.3" text-anchor="end">−4</text>
<path d="M457.90,341.80 H460.1" stroke="#7d7d7d" stroke-width="0.7"/>
<text x="453.80" y="344.40" font-size="7.3" text-anchor="end">0</text>
<path d="M457.90,389.40 H460.1" stroke="#7d7d7d" stroke-width="0.7"/>
<text x="453.80" y="392.00" font-size="7.3" text-anchor="end">4</text>
<path d="M466.00,390.50 V392.90" stroke="#7d7d7d" stroke-width="0.7"/>
<text x="466.00" y="402.70" font-size="7.3" text-anchor="middle">−1</text>
<path d="M509.60,390.50 V392.90" stroke="#7d7d7d" stroke-width="0.7"/>
<text x="509.60" y="402.70" font-size="7.3" text-anchor="middle">0</text>
<path d="M553.30,390.50 V392.90" stroke="#7d7d7d" stroke-width="0.7"/>
<text x="553.30" y="402.70" font-size="7.3" text-anchor="middle">1</text>
<rect x="586.0" y="292.5" width="98.20" height="98.00" fill="none" stroke="#555555" stroke-width="0.6"/>
<path d="M583.80,298.70 H586.0" stroke="#7d7d7d" stroke-width="0.7"/>
<text x="579.70" y="301.30" font-size="7.3" text-anchor="end">−1</text>
<path d="M583.80,342.00 H586.0" stroke="#7d7d7d" stroke-width="0.7"/>
<text x="579.70" y="344.60" font-size="7.3" text-anchor="end">0</text>
<path d="M583.80,385.40 H586.0" stroke="#7d7d7d" stroke-width="0.7"/>
<text x="579.70" y="388.00" font-size="7.3" text-anchor="end">1</text>
<path d="M587.30,390.50 V392.90" stroke="#7d7d7d" stroke-width="0.7"/>
<text x="587.30" y="402.70" font-size="7.3" text-anchor="middle">−4</text>
<path d="M635.30,390.50 V392.90" stroke="#7d7d7d" stroke-width="0.7"/>
<text x="635.30" y="402.70" font-size="7.3" text-anchor="middle">0</text>
<path d="M682.80,390.50 V392.90" stroke="#7d7d7d" stroke-width="0.7"/>
<text x="682.80" y="402.70" font-size="7.3" text-anchor="middle">4</text>
<text x="509.70" y="416.10" font-size="9.2" text-anchor="middle" textLength="72.00" lengthAdjust="spacingAndGlyphs">Motion coherence</text>
<text x="635.50" y="416.10" font-size="9.2" text-anchor="middle" textLength="72.00" lengthAdjust="spacingAndGlyphs">Motion coherence</text>
<text transform="translate(439.0,343.00) rotate(-90)" font-size="8.8" text-anchor="middle" textLength="72" lengthAdjust="spacingAndGlyphs">Colour coherence</text>
<defs><filter id="bf3_80" x="-30%" y="-30%" width="160%" height="160%"><feGaussianBlur stdDeviation="3.8"/></filter><filter id="bf4_00" x="-30%" y="-30%" width="160%" height="160%"><feGaussianBlur stdDeviation="4.0"/></filter><filter id="bf1_00" x="-30%" y="-30%" width="160%" height="160%"><feGaussianBlur stdDeviation="1.0"/></filter><filter id="bf2_00" x="-30%" y="-30%" width="160%" height="160%"><feGaussianBlur stdDeviation="2.0"/></filter><filter id="bf4_40" x="-30%" y="-30%" width="160%" height="160%"><feGaussianBlur stdDeviation="4.4"/></filter><filter id="bf3_50" x="-30%" y="-30%" width="160%" height="160%"><feGaussianBlur stdDeviation="3.5"/></filter></defs>
<path d="M473.05,94.05h1.7v1.7h-1.7zM473.05,97.27h1.7v1.7h-1.7zM473.05,100.48h1.7v1.7h-1.7zM473.05,103.70h1.7v1.7h-1.7zM473.05,106.92h1.7v1.7h-1.7zM473.05,110.13h1.7v1.7h-1.7zM473.05,113.35h1.7v1.7h-1.7zM476.37,94.05h1.7v1.7h-1.7zM476.37,113.35h1.7v1.7h-1.7zM479.70,94.05h1.7v1.7h-1.7zM479.70,113.35h1.7v1.7h-1.7zM483.03,94.05h1.7v1.7h-1.7zM483.03,113.35h1.7v1.7h-1.7zM486.35,94.05h1.7v1.7h-1.7zM486.35,113.35h1.7v1.7h-1.7zM489.67,94.05h1.7v1.7h-1.7zM489.67,113.35h1.7v1.7h-1.7zM493.00,94.05h1.7v1.7h-1.7zM493.00,113.35h1.7v1.7h-1.7zM496.32,94.05h1.7v1.7h-1.7zM496.32,113.35h1.7v1.7h-1.7zM499.65,94.05h1.7v1.7h-1.7zM499.65,113.35h1.7v1.7h-1.7zM502.97,94.05h1.7v1.7h-1.7zM502.97,113.35h1.7v1.7h-1.7zM506.30,94.05h1.7v1.7h-1.7zM506.30,113.35h1.7v1.7h-1.7zM509.62,94.05h1.7v1.7h-1.7zM509.62,113.35h1.7v1.7h-1.7zM512.95,94.05h1.7v1.7h-1.7zM512.95,113.35h1.7v1.7h-1.7zM516.27,94.05h1.7v1.7h-1.7zM516.27,113.35h1.7v1.7h-1.7zM519.60,94.05h1.7v1.7h-1.7zM519.60,113.35h1.7v1.7h-1.7zM522.92,94.05h1.7v1.7h-1.7zM522.92,113.35h1.7v1.7h-1.7zM526.25,94.05h1.7v1.7h-1.7zM526.25,113.35h1.7v1.7h-1.7zM529.57,94.05h1.7v1.7h-1.7zM529.57,113.35h1.7v1.7h-1.7zM532.90,94.05h1.7v1.7h-1.7zM532.90,113.35h1.7v1.7h-1.7zM536.22,94.05h1.7v1.7h-1.7zM536.22,113.35h1.7v1.7h-1.7zM539.55,94.05h1.7v1.7h-1.7zM539.55,97.27h1.7v1.7h-1.7zM539.55,100.48h1.7v1.7h-1.7zM539.55,103.70h1.7v1.7h-1.7zM539.55,106.92h1.7v1.7h-1.7zM539.55,110.13h1.7v1.7h-1.7zM539.55,113.35h1.7v1.7h-1.7z" fill="#1a1a1a"/>
<path d="M623.75,70.75h1.7v1.7h-1.7zM623.75,74.09h1.7v1.7h-1.7zM623.75,77.43h1.7v1.7h-1.7zM623.75,80.77h1.7v1.7h-1.7zM623.75,84.11h1.7v1.7h-1.7zM623.75,87.45h1.7v1.7h-1.7zM623.75,90.79h1.7v1.7h-1.7zM623.75,94.13h1.7v1.7h-1.7zM623.75,97.47h1.7v1.7h-1.7zM623.75,100.81h1.7v1.7h-1.7zM623.75,104.15h1.7v1.7h-1.7zM623.75,107.49h1.7v1.7h-1.7zM623.75,110.83h1.7v1.7h-1.7zM623.75,114.17h1.7v1.7h-1.7zM623.75,117.51h1.7v1.7h-1.7zM623.75,120.85h1.7v1.7h-1.7zM623.75,124.19h1.7v1.7h-1.7zM623.75,127.53h1.7v1.7h-1.7zM623.75,130.87h1.7v1.7h-1.7zM623.75,134.21h1.7v1.7h-1.7zM623.75,137.55h1.7v1.7h-1.7zM627.05,70.75h1.7v1.7h-1.7zM627.05,137.55h1.7v1.7h-1.7zM630.35,70.75h1.7v1.7h-1.7zM630.35,137.55h1.7v1.7h-1.7zM633.65,70.75h1.7v1.7h-1.7zM633.65,137.55h1.7v1.7h-1.7zM636.95,70.75h1.7v1.7h-1.7zM636.95,137.55h1.7v1.7h-1.7zM640.25,70.75h1.7v1.7h-1.7zM640.25,137.55h1.7v1.7h-1.7zM643.55,70.75h1.7v1.7h-1.7zM643.55,74.09h1.7v1.7h-1.7zM643.55,77.43h1.7v1.7h-1.7zM643.55,80.77h1.7v1.7h-1.7zM643.55,84.11h1.7v1.7h-1.7zM643.55,87.45h1.7v1.7h-1.7zM643.55,90.79h1.7v1.7h-1.7zM643.55,94.13h1.7v1.7h-1.7zM643.55,97.47h1.7v1.7h-1.7zM643.55,100.81h1.7v1.7h-1.7zM643.55,104.15h1.7v1.7h-1.7zM643.55,107.49h1.7v1.7h-1.7zM643.55,110.83h1.7v1.7h-1.7zM643.55,114.17h1.7v1.7h-1.7zM643.55,117.51h1.7v1.7h-1.7zM643.55,120.85h1.7v1.7h-1.7zM643.55,124.19h1.7v1.7h-1.7zM643.55,127.53h1.7v1.7h-1.7zM643.55,130.87h1.7v1.7h-1.7zM643.55,134.21h1.7v1.7h-1.7zM643.55,137.55h1.7v1.7h-1.7z" fill="#1a1a1a"/>
<path d="M473.05,331.75h1.7v1.7h-1.7zM473.05,334.97h1.7v1.7h-1.7zM473.05,338.18h1.7v1.7h-1.7zM473.05,341.40h1.7v1.7h-1.7zM473.05,344.62h1.7v1.7h-1.7zM473.05,347.83h1.7v1.7h-1.7zM473.05,351.05h1.7v1.7h-1.7zM476.37,331.75h1.7v1.7h-1.7zM476.37,351.05h1.7v1.7h-1.7zM479.70,331.75h1.7v1.7h-1.7zM479.70,351.05h1.7v1.7h-1.7zM483.03,331.75h1.7v1.7h-1.7zM483.03,351.05h1.7v1.7h-1.7zM486.35,331.75h1.7v1.7h-1.7zM486.35,351.05h1.7v1.7h-1.7zM489.67,331.75h1.7v1.7h-1.7zM489.67,351.05h1.7v1.7h-1.7zM493.00,331.75h1.7v1.7h-1.7zM493.00,351.05h1.7v1.7h-1.7zM496.32,331.75h1.7v1.7h-1.7zM496.32,351.05h1.7v1.7h-1.7zM499.65,331.75h1.7v1.7h-1.7zM499.65,351.05h1.7v1.7h-1.7zM502.97,331.75h1.7v1.7h-1.7zM502.97,351.05h1.7v1.7h-1.7zM506.30,331.75h1.7v1.7h-1.7zM506.30,351.05h1.7v1.7h-1.7zM509.62,331.75h1.7v1.7h-1.7zM509.62,351.05h1.7v1.7h-1.7zM512.95,331.75h1.7v1.7h-1.7zM512.95,351.05h1.7v1.7h-1.7zM516.27,331.75h1.7v1.7h-1.7zM516.27,351.05h1.7v1.7h-1.7zM519.60,331.75h1.7v1.7h-1.7zM519.60,351.05h1.7v1.7h-1.7zM522.92,331.75h1.7v1.7h-1.7zM522.92,351.05h1.7v1.7h-1.7zM526.25,331.75h1.7v1.7h-1.7zM526.25,351.05h1.7v1.7h-1.7zM529.57,331.75h1.7v1.7h-1.7zM529.57,351.05h1.7v1.7h-1.7zM532.90,331.75h1.7v1.7h-1.7zM532.90,351.05h1.7v1.7h-1.7zM536.22,331.75h1.7v1.7h-1.7zM536.22,351.05h1.7v1.7h-1.7zM539.55,331.75h1.7v1.7h-1.7zM539.55,334.97h1.7v1.7h-1.7zM539.55,338.18h1.7v1.7h-1.7zM539.55,341.40h1.7v1.7h-1.7zM539.55,344.62h1.7v1.7h-1.7zM539.55,347.83h1.7v1.7h-1.7zM539.55,351.05h1.7v1.7h-1.7z" fill="#1a1a1a"/>
<path d="M624.75,307.55h1.7v1.7h-1.7zM624.75,310.90h1.7v1.7h-1.7zM624.75,314.25h1.7v1.7h-1.7zM624.75,317.60h1.7v1.7h-1.7zM624.75,320.95h1.7v1.7h-1.7zM624.75,324.30h1.7v1.7h-1.7zM624.75,327.65h1.7v1.7h-1.7zM624.75,331.00h1.7v1.7h-1.7zM624.75,334.35h1.7v1.7h-1.7zM624.75,337.70h1.7v1.7h-1.7zM624.75,341.05h1.7v1.7h-1.7zM624.75,344.40h1.7v1.7h-1.7zM624.75,347.75h1.7v1.7h-1.7zM624.75,351.10h1.7v1.7h-1.7zM624.75,354.45h1.7v1.7h-1.7zM624.75,357.80h1.7v1.7h-1.7zM624.75,361.15h1.7v1.7h-1.7zM624.75,364.50h1.7v1.7h-1.7zM624.75,367.85h1.7v1.7h-1.7zM624.75,371.20h1.7v1.7h-1.7zM624.75,374.55h1.7v1.7h-1.7zM628.05,307.55h1.7v1.7h-1.7zM628.05,374.55h1.7v1.7h-1.7zM631.35,307.55h1.7v1.7h-1.7zM631.35,374.55h1.7v1.7h-1.7zM634.65,307.55h1.7v1.7h-1.7zM634.65,374.55h1.7v1.7h-1.7zM637.95,307.55h1.7v1.7h-1.7zM637.95,374.55h1.7v1.7h-1.7zM641.25,307.55h1.7v1.7h-1.7zM641.25,374.55h1.7v1.7h-1.7zM644.55,307.55h1.7v1.7h-1.7zM644.55,310.90h1.7v1.7h-1.7zM644.55,314.25h1.7v1.7h-1.7zM644.55,317.60h1.7v1.7h-1.7zM644.55,320.95h1.7v1.7h-1.7zM644.55,324.30h1.7v1.7h-1.7zM644.55,327.65h1.7v1.7h-1.7zM644.55,331.00h1.7v1.7h-1.7zM644.55,334.35h1.7v1.7h-1.7zM644.55,337.70h1.7v1.7h-1.7zM644.55,341.05h1.7v1.7h-1.7zM644.55,344.40h1.7v1.7h-1.7zM644.55,347.75h1.7v1.7h-1.7zM644.55,351.10h1.7v1.7h-1.7zM644.55,354.45h1.7v1.7h-1.7zM644.55,357.80h1.7v1.7h-1.7zM644.55,361.15h1.7v1.7h-1.7zM644.55,364.50h1.7v1.7h-1.7zM644.55,367.85h1.7v1.7h-1.7zM644.55,371.20h1.7v1.7h-1.7zM644.55,374.55h1.7v1.7h-1.7z" fill="#1a1a1a"/>
<path d="M519.50,61.50 L513.24,67.24" stroke="#000" stroke-width="1.45"/><path d="M510.15,70.08 L512.00,64.99 L515.38,68.68 Z" fill="#000"/>
<path d="M519.00,139.30 L512.29,145.04" stroke="#000" stroke-width="1.45"/><path d="M509.10,147.77 L511.12,142.75 L514.37,146.55 Z" fill="#000"/>
<path d="M602.00,96.00 L595.74,101.74" stroke="#000" stroke-width="1.45"/><path d="M592.65,104.58 L594.50,99.49 L597.88,103.18 Z" fill="#000"/>
<path d="M678.50,96.00 L672.52,101.69" stroke="#000" stroke-width="1.45"/><path d="M669.48,104.58 L671.23,99.46 L674.68,103.08 Z" fill="#000"/>
<path d="M520.50,297.50 L514.11,303.01" stroke="#000" stroke-width="1.45"/><path d="M510.93,305.75 L512.93,300.72 L516.20,304.51 Z" fill="#000"/>
<path d="M519.80,375.00 L513.60,380.47" stroke="#000" stroke-width="1.45"/><path d="M510.45,383.25 L512.40,378.20 L515.70,381.95 Z" fill="#000"/>
<path d="M602.80,333.30 L597.06,338.68" stroke="#000" stroke-width="1.45"/><path d="M594.00,341.55 L595.79,336.44 L599.21,340.09 Z" fill="#000"/>
<path d="M678.00,333.30 L672.54,338.62" stroke="#000" stroke-width="1.45"/><path d="M669.53,341.55 L671.22,336.41 L674.71,339.99 Z" fill="#000"/>
<text x="431.60" y="9.40" font-size="13" fill="#000" font-weight="bold">b</text>
<text x="431.20" y="249.60" font-size="13" fill="#000" font-weight="bold">d</text>
<text x="479.90" y="35.75" font-size="8.5" textLength="60.00" lengthAdjust="spacingAndGlyphs">Motion context</text>
<text x="605.30" y="35.75" font-size="8.5" textLength="59.80" lengthAdjust="spacingAndGlyphs">Colour context</text>
<text x="583.00" y="226.80" font-size="8.5" text-anchor="middle" textLength="74.30" lengthAdjust="spacingAndGlyphs">Choice to right (%)</text>
<defs><linearGradient id="cbch" x1="0" y1="0" x2="1" y2="0"><stop offset="0" stop-color="#4b67c8"/><stop offset="0.5" stop-color="#ffffff"/><stop offset="1" stop-color="#cb344d"/></linearGradient></defs>
<rect x="497.0" y="231.3" width="168.1" height="5.6" fill="url(#cbch)" stroke="#666" stroke-width="0.45"/>
<path d="M497.00,236.9 V239.8" stroke="#666" stroke-width="0.7"/>
<text x="497.00" y="248.70" font-size="7.3" text-anchor="middle">0</text>
<path d="M581.05,236.9 V239.8" stroke="#666" stroke-width="0.7"/>
<text x="581.05" y="248.70" font-size="7.3" text-anchor="middle">50</text>
<path d="M665.10,236.9 V239.8" stroke="#666" stroke-width="0.7"/>
<text x="665.10" y="248.70" font-size="7.3" text-anchor="middle">100</text>
</svg>
</body></html>
